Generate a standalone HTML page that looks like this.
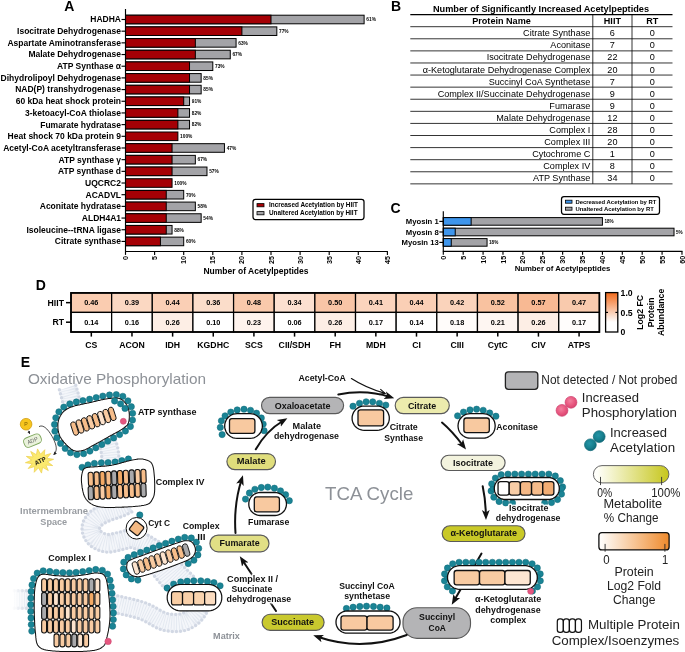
<!DOCTYPE html>
<html><head><meta charset="utf-8"><title>Figure</title><style>
html,body{margin:0;padding:0;background:#fff;}
svg{display:block;font-family:"Liberation Sans", Arial, sans-serif;}
.lab{font-size:8.5px;font-weight:bold;fill:#000;}
.pct{font-size:4.8px;font-weight:bold;fill:#000;}
.tick{font-size:7.2px;font-weight:bold;fill:#000;}
.axl{font-size:8.5px;font-weight:bold;fill:#000;}
.leg{font-size:6.4px;font-weight:bold;fill:#000;}
.pl{font-size:14px;font-weight:bold;fill:#000;}
.ax{stroke:#000;stroke-width:1.15;fill:none;}
.btitle{font-size:9.2px;font-weight:bold;fill:#000;}
.bhead{font-size:9.1px;font-weight:bold;fill:#000;}
.bcell{font-size:9.1px;fill:#000;}
.dval{font-size:7.3px;font-weight:bold;fill:#000;}
.el{font-size:7.4px;font-weight:bold;fill:#111;}
.met{font-size:8px;font-weight:bold;fill:#111;}
.big{fill:#8d9197;}
.lg{font-size:11px;fill:#222;}
</style></head>
<body><svg width="685" height="652" viewBox="0 0 685 652">
<rect width="685" height="652" fill="#fff"/>
<g id="panelA">
<rect x="125.50" y="15.20" width="238.62" height="8.6" fill="#a3a3a7" stroke="#000" stroke-width="1"/>
<rect x="125.50" y="15.20" width="145.50" height="8.6" fill="#a50005" stroke="#000" stroke-width="1"/>
<text x="121.00" y="22.40" text-anchor="end" class="lab">HADHA</text>
<line x1="121.5" y1="19.50" x2="125.5" y2="19.50" class="ax"/>
<text x="366.32" y="21.30" class="pct">61%</text>
<rect x="125.50" y="26.88" width="151.32" height="8.6" fill="#a3a3a7" stroke="#000" stroke-width="1"/>
<rect x="125.50" y="26.88" width="116.40" height="8.6" fill="#a50005" stroke="#000" stroke-width="1"/>
<text x="121.00" y="34.08" text-anchor="end" class="lab">Isocitrate Dehydrogenase</text>
<line x1="121.5" y1="31.18" x2="125.5" y2="31.18" class="ax"/>
<text x="279.02" y="32.98" class="pct">77%</text>
<rect x="125.50" y="38.56" width="110.58" height="8.6" fill="#a3a3a7" stroke="#000" stroke-width="1"/>
<rect x="125.50" y="38.56" width="69.84" height="8.6" fill="#a50005" stroke="#000" stroke-width="1"/>
<text x="121.00" y="45.76" text-anchor="end" class="lab">Aspartate Aminotransferase</text>
<line x1="121.5" y1="42.86" x2="125.5" y2="42.86" class="ax"/>
<text x="238.28" y="44.66" class="pct">63%</text>
<rect x="125.50" y="50.24" width="104.76" height="8.6" fill="#a3a3a7" stroke="#000" stroke-width="1"/>
<rect x="125.50" y="50.24" width="69.84" height="8.6" fill="#a50005" stroke="#000" stroke-width="1"/>
<text x="121.00" y="57.44" text-anchor="end" class="lab">Malate Dehydrogenase</text>
<line x1="121.5" y1="54.54" x2="125.5" y2="54.54" class="ax"/>
<text x="232.46" y="56.34" class="pct">67%</text>
<rect x="125.50" y="61.92" width="87.30" height="8.6" fill="#a3a3a7" stroke="#000" stroke-width="1"/>
<rect x="125.50" y="61.92" width="64.02" height="8.6" fill="#a50005" stroke="#000" stroke-width="1"/>
<text x="121.00" y="69.12" text-anchor="end" class="lab">ATP Synthase α</text>
<line x1="121.5" y1="66.22" x2="125.5" y2="66.22" class="ax"/>
<text x="215.00" y="68.02" class="pct">73%</text>
<rect x="125.50" y="73.60" width="75.66" height="8.6" fill="#a3a3a7" stroke="#000" stroke-width="1"/>
<rect x="125.50" y="73.60" width="64.02" height="8.6" fill="#a50005" stroke="#000" stroke-width="1"/>
<text x="121.00" y="80.80" text-anchor="end" class="lab">Dihydrolipoyl Dehydrogenase</text>
<line x1="121.5" y1="77.90" x2="125.5" y2="77.90" class="ax"/>
<text x="203.36" y="79.70" class="pct">85%</text>
<rect x="125.50" y="85.28" width="75.66" height="8.6" fill="#a3a3a7" stroke="#000" stroke-width="1"/>
<rect x="125.50" y="85.28" width="64.02" height="8.6" fill="#a50005" stroke="#000" stroke-width="1"/>
<text x="121.00" y="92.48" text-anchor="end" class="lab">NAD(P) transhydrogenase</text>
<line x1="121.5" y1="89.58" x2="125.5" y2="89.58" class="ax"/>
<text x="203.36" y="91.38" class="pct">85%</text>
<rect x="125.50" y="96.96" width="64.02" height="8.6" fill="#a3a3a7" stroke="#000" stroke-width="1"/>
<rect x="125.50" y="96.96" width="58.20" height="8.6" fill="#a50005" stroke="#000" stroke-width="1"/>
<text x="121.00" y="104.16" text-anchor="end" class="lab">60 kDa heat shock protein</text>
<line x1="121.5" y1="101.26" x2="125.5" y2="101.26" class="ax"/>
<text x="191.72" y="103.06" class="pct">91%</text>
<rect x="125.50" y="108.64" width="64.02" height="8.6" fill="#a3a3a7" stroke="#000" stroke-width="1"/>
<rect x="125.50" y="108.64" width="52.38" height="8.6" fill="#a50005" stroke="#000" stroke-width="1"/>
<text x="121.00" y="115.84" text-anchor="end" class="lab">3-ketoacyl-CoA thiolase</text>
<line x1="121.5" y1="112.94" x2="125.5" y2="112.94" class="ax"/>
<text x="191.72" y="114.74" class="pct">82%</text>
<rect x="125.50" y="120.32" width="64.02" height="8.6" fill="#a3a3a7" stroke="#000" stroke-width="1"/>
<rect x="125.50" y="120.32" width="52.38" height="8.6" fill="#a50005" stroke="#000" stroke-width="1"/>
<text x="121.00" y="127.52" text-anchor="end" class="lab">Fumarate hydratase</text>
<line x1="121.5" y1="124.62" x2="125.5" y2="124.62" class="ax"/>
<text x="191.72" y="126.42" class="pct">82%</text>
<rect x="125.50" y="132.00" width="52.38" height="8.6" fill="#a50005" stroke="#000" stroke-width="1"/>
<text x="121.00" y="139.20" text-anchor="end" class="lab">Heat shock 70 kDa protein 9</text>
<line x1="121.5" y1="136.30" x2="125.5" y2="136.30" class="ax"/>
<text x="180.08" y="138.10" class="pct">100%</text>
<rect x="125.50" y="143.68" width="98.94" height="8.6" fill="#a3a3a7" stroke="#000" stroke-width="1"/>
<rect x="125.50" y="143.68" width="46.56" height="8.6" fill="#a50005" stroke="#000" stroke-width="1"/>
<text x="121.00" y="150.88" text-anchor="end" class="lab">Acetyl-CoA acetyltransferase</text>
<line x1="121.5" y1="147.98" x2="125.5" y2="147.98" class="ax"/>
<text x="226.64" y="149.78" class="pct">47%</text>
<rect x="125.50" y="155.36" width="69.84" height="8.6" fill="#a3a3a7" stroke="#000" stroke-width="1"/>
<rect x="125.50" y="155.36" width="46.56" height="8.6" fill="#a50005" stroke="#000" stroke-width="1"/>
<text x="121.00" y="162.56" text-anchor="end" class="lab">ATP synthase γ</text>
<line x1="121.5" y1="159.66" x2="125.5" y2="159.66" class="ax"/>
<text x="197.54" y="161.46" class="pct">67%</text>
<rect x="125.50" y="167.04" width="81.48" height="8.6" fill="#a3a3a7" stroke="#000" stroke-width="1"/>
<rect x="125.50" y="167.04" width="46.56" height="8.6" fill="#a50005" stroke="#000" stroke-width="1"/>
<text x="121.00" y="174.24" text-anchor="end" class="lab">ATP synthase d</text>
<line x1="121.5" y1="171.34" x2="125.5" y2="171.34" class="ax"/>
<text x="209.18" y="173.14" class="pct">57%</text>
<rect x="125.50" y="178.72" width="46.56" height="8.6" fill="#a50005" stroke="#000" stroke-width="1"/>
<text x="121.00" y="185.92" text-anchor="end" class="lab">UQCRC2</text>
<line x1="121.5" y1="183.02" x2="125.5" y2="183.02" class="ax"/>
<text x="174.26" y="184.82" class="pct">100%</text>
<rect x="125.50" y="190.40" width="58.20" height="8.6" fill="#a3a3a7" stroke="#000" stroke-width="1"/>
<rect x="125.50" y="190.40" width="40.74" height="8.6" fill="#a50005" stroke="#000" stroke-width="1"/>
<text x="121.00" y="197.60" text-anchor="end" class="lab">ACADVL</text>
<line x1="121.5" y1="194.70" x2="125.5" y2="194.70" class="ax"/>
<text x="185.90" y="196.50" class="pct">70%</text>
<rect x="125.50" y="202.08" width="69.84" height="8.6" fill="#a3a3a7" stroke="#000" stroke-width="1"/>
<rect x="125.50" y="202.08" width="40.74" height="8.6" fill="#a50005" stroke="#000" stroke-width="1"/>
<text x="121.00" y="209.28" text-anchor="end" class="lab">Aconitate hydratase</text>
<line x1="121.5" y1="206.38" x2="125.5" y2="206.38" class="ax"/>
<text x="197.54" y="208.18" class="pct">58%</text>
<rect x="125.50" y="213.76" width="75.66" height="8.6" fill="#a3a3a7" stroke="#000" stroke-width="1"/>
<rect x="125.50" y="213.76" width="40.74" height="8.6" fill="#a50005" stroke="#000" stroke-width="1"/>
<text x="121.00" y="220.96" text-anchor="end" class="lab">ALDH4A1</text>
<line x1="121.5" y1="218.06" x2="125.5" y2="218.06" class="ax"/>
<text x="203.36" y="219.86" class="pct">54%</text>
<rect x="125.50" y="225.44" width="46.56" height="8.6" fill="#a3a3a7" stroke="#000" stroke-width="1"/>
<rect x="125.50" y="225.44" width="40.74" height="8.6" fill="#a50005" stroke="#000" stroke-width="1"/>
<text x="121.00" y="232.64" text-anchor="end" class="lab">Isoleucine--tRNA ligase</text>
<line x1="121.5" y1="229.74" x2="125.5" y2="229.74" class="ax"/>
<text x="174.26" y="231.54" class="pct">88%</text>
<rect x="125.50" y="237.12" width="58.20" height="8.6" fill="#a3a3a7" stroke="#000" stroke-width="1"/>
<rect x="125.50" y="237.12" width="34.92" height="8.6" fill="#a50005" stroke="#000" stroke-width="1"/>
<text x="121.00" y="244.32" text-anchor="end" class="lab">Citrate synthase</text>
<line x1="121.5" y1="241.42" x2="125.5" y2="241.42" class="ax"/>
<text x="185.90" y="243.22" class="pct">60%</text>
<line x1="125.5" y1="9" x2="125.5" y2="251.5" class="ax"/>
<line x1="125.0" y1="251.5" x2="387.90" y2="251.5" class="ax"/>
<line x1="125.50" y1="251.5" x2="125.50" y2="254.9" class="ax"/>
<text transform="translate(128.05,256.1) rotate(-90)" text-anchor="end" class="tick">0</text>
<line x1="154.60" y1="251.5" x2="154.60" y2="254.9" class="ax"/>
<text transform="translate(157.15,256.1) rotate(-90)" text-anchor="end" class="tick">5</text>
<line x1="183.70" y1="251.5" x2="183.70" y2="254.9" class="ax"/>
<text transform="translate(186.25,256.1) rotate(-90)" text-anchor="end" class="tick">10</text>
<line x1="212.80" y1="251.5" x2="212.80" y2="254.9" class="ax"/>
<text transform="translate(215.35,256.1) rotate(-90)" text-anchor="end" class="tick">15</text>
<line x1="241.90" y1="251.5" x2="241.90" y2="254.9" class="ax"/>
<text transform="translate(244.45,256.1) rotate(-90)" text-anchor="end" class="tick">20</text>
<line x1="271.00" y1="251.5" x2="271.00" y2="254.9" class="ax"/>
<text transform="translate(273.55,256.1) rotate(-90)" text-anchor="end" class="tick">25</text>
<line x1="300.10" y1="251.5" x2="300.10" y2="254.9" class="ax"/>
<text transform="translate(302.65,256.1) rotate(-90)" text-anchor="end" class="tick">30</text>
<line x1="329.20" y1="251.5" x2="329.20" y2="254.9" class="ax"/>
<text transform="translate(331.75,256.1) rotate(-90)" text-anchor="end" class="tick">35</text>
<line x1="358.30" y1="251.5" x2="358.30" y2="254.9" class="ax"/>
<text transform="translate(360.85,256.1) rotate(-90)" text-anchor="end" class="tick">40</text>
<line x1="387.40" y1="251.5" x2="387.40" y2="254.9" class="ax"/>
<text transform="translate(389.95,256.1) rotate(-90)" text-anchor="end" class="tick">45</text>
<text x="256" y="273.5" text-anchor="middle" class="axl">Number of Acetylpeptides</text>
<rect x="253" y="199.3" width="111" height="20.3" rx="2.5" fill="#fff" stroke="#000" stroke-width="1.25"/>
<rect x="257" y="203.6" width="7" height="3.2" fill="#a50005" stroke="#000" stroke-width="0.8"/>
<rect x="257" y="211.6" width="7" height="3.2" fill="#a3a3a7" stroke="#000" stroke-width="0.8"/>
<text x="269" y="207.3" class="leg">Increased Acetylation by HIIT</text>
<text x="269" y="215.3" class="leg">Unaltered Acetylation by HIIT</text>
</g>
<text x="64.3" y="10.8" class="pl">A</text>
<text x="391" y="10.8" class="pl">B</text>
<text x="390.6" y="213.3" class="pl">C</text>
<text x="35.8" y="289.6" class="pl">D</text>
<text x="20.8" y="367" class="pl">E</text>
<g id="panelB">
<text x="541" y="12" text-anchor="middle" class="btitle">Number of Significantly Increased Acetylpeptides</text>
<line x1="410.3" y1="14.7" x2="672.5" y2="14.7" stroke="#000" stroke-width="1.3"/>
<line x1="410.3" y1="26.7" x2="672.5" y2="26.7" stroke="#000" stroke-width="0.8"/>
<text x="501.5" y="24.0" text-anchor="middle" class="bhead">Protein Name</text>
<text x="612.4" y="24.0" text-anchor="middle" class="bhead">HIIT</text>
<text x="652.2" y="24.0" text-anchor="middle" class="bhead">RT</text>
<line x1="410.3" y1="38.79" x2="672.5" y2="38.79" stroke="#000" stroke-width="0.8"/>
<text x="590.3" y="36.30" text-anchor="end" class="bcell">Citrate Synthase</text>
<text x="612.4" y="36.30" text-anchor="middle" class="bcell">6</text>
<text x="652.2" y="36.30" text-anchor="middle" class="bcell">0</text>
<line x1="410.3" y1="50.88" x2="672.5" y2="50.88" stroke="#000" stroke-width="0.8"/>
<text x="590.3" y="48.39" text-anchor="end" class="bcell">Aconitase</text>
<text x="612.4" y="48.39" text-anchor="middle" class="bcell">7</text>
<text x="652.2" y="48.39" text-anchor="middle" class="bcell">0</text>
<line x1="410.3" y1="62.97" x2="672.5" y2="62.97" stroke="#000" stroke-width="0.8"/>
<text x="590.3" y="60.48" text-anchor="end" class="bcell">Isocitrate Dehydrogenase</text>
<text x="612.4" y="60.48" text-anchor="middle" class="bcell">22</text>
<text x="652.2" y="60.48" text-anchor="middle" class="bcell">0</text>
<line x1="410.3" y1="75.06" x2="672.5" y2="75.06" stroke="#000" stroke-width="0.8"/>
<text x="590.3" y="72.57" text-anchor="end" class="bcell">α-Ketoglutarate Dehydrogenase Complex</text>
<text x="612.4" y="72.57" text-anchor="middle" class="bcell">20</text>
<text x="652.2" y="72.57" text-anchor="middle" class="bcell">0</text>
<line x1="410.3" y1="87.15" x2="672.5" y2="87.15" stroke="#000" stroke-width="0.8"/>
<text x="590.3" y="84.66" text-anchor="end" class="bcell">Succinyl CoA Synthetase</text>
<text x="612.4" y="84.66" text-anchor="middle" class="bcell">7</text>
<text x="652.2" y="84.66" text-anchor="middle" class="bcell">0</text>
<line x1="410.3" y1="99.24" x2="672.5" y2="99.24" stroke="#000" stroke-width="0.8"/>
<text x="590.3" y="96.75" text-anchor="end" class="bcell">Complex II/Succinate Dehydrogenase</text>
<text x="612.4" y="96.75" text-anchor="middle" class="bcell">9</text>
<text x="652.2" y="96.75" text-anchor="middle" class="bcell">0</text>
<line x1="410.3" y1="111.33" x2="672.5" y2="111.33" stroke="#000" stroke-width="0.8"/>
<text x="590.3" y="108.84" text-anchor="end" class="bcell">Fumarase</text>
<text x="612.4" y="108.84" text-anchor="middle" class="bcell">9</text>
<text x="652.2" y="108.84" text-anchor="middle" class="bcell">0</text>
<line x1="410.3" y1="123.42" x2="672.5" y2="123.42" stroke="#000" stroke-width="0.8"/>
<text x="590.3" y="120.93" text-anchor="end" class="bcell">Malate Dehydrogenase</text>
<text x="612.4" y="120.93" text-anchor="middle" class="bcell">12</text>
<text x="652.2" y="120.93" text-anchor="middle" class="bcell">0</text>
<line x1="410.3" y1="135.51" x2="672.5" y2="135.51" stroke="#000" stroke-width="0.8"/>
<text x="590.3" y="133.02" text-anchor="end" class="bcell">Complex I</text>
<text x="612.4" y="133.02" text-anchor="middle" class="bcell">28</text>
<text x="652.2" y="133.02" text-anchor="middle" class="bcell">0</text>
<line x1="410.3" y1="147.60" x2="672.5" y2="147.60" stroke="#000" stroke-width="0.8"/>
<text x="590.3" y="145.11" text-anchor="end" class="bcell">Complex III</text>
<text x="612.4" y="145.11" text-anchor="middle" class="bcell">20</text>
<text x="652.2" y="145.11" text-anchor="middle" class="bcell">0</text>
<line x1="410.3" y1="159.69" x2="672.5" y2="159.69" stroke="#000" stroke-width="0.8"/>
<text x="590.3" y="157.20" text-anchor="end" class="bcell">Cytochrome C</text>
<text x="612.4" y="157.20" text-anchor="middle" class="bcell">1</text>
<text x="652.2" y="157.20" text-anchor="middle" class="bcell">0</text>
<line x1="410.3" y1="171.78" x2="672.5" y2="171.78" stroke="#000" stroke-width="0.8"/>
<text x="590.3" y="169.29" text-anchor="end" class="bcell">Complex IV</text>
<text x="612.4" y="169.29" text-anchor="middle" class="bcell">8</text>
<text x="652.2" y="169.29" text-anchor="middle" class="bcell">0</text>
<line x1="410.3" y1="183.87" x2="672.5" y2="183.87" stroke="#000" stroke-width="0.8"/>
<text x="590.3" y="181.38" text-anchor="end" class="bcell">ATP Synthase</text>
<text x="612.4" y="181.38" text-anchor="middle" class="bcell">34</text>
<text x="652.2" y="181.38" text-anchor="middle" class="bcell">0</text>
<line x1="592.8" y1="14.7" x2="592.8" y2="183.87" stroke="#000" stroke-width="0.8"/>
<line x1="632.0" y1="14.7" x2="632.0" y2="183.87" stroke="#000" stroke-width="0.8"/>
</g>
<g id="panelC">
<rect x="443.3" y="217.60" width="159.12" height="7.6" fill="#a3a3a7" stroke="#000" stroke-width="1"/>
<rect x="443.3" y="217.60" width="27.85" height="7.6" fill="#3e95ec" stroke="#000" stroke-width="1"/>
<text x="438.7" y="224.20" text-anchor="end" class="lab" style="font-size:7.7px">Myosin 1</text>
<line x1="439.3" y1="221.4" x2="443.3" y2="221.4" class="ax"/>
<text x="604.42" y="223.00" class="pct" style="font-size:4.6px">18%</text>
<rect x="443.3" y="228.20" width="230.72" height="7.6" fill="#a3a3a7" stroke="#000" stroke-width="1"/>
<rect x="443.3" y="228.20" width="11.93" height="7.6" fill="#3e95ec" stroke="#000" stroke-width="1"/>
<text x="438.7" y="234.80" text-anchor="end" class="lab" style="font-size:7.7px">Myosin 8</text>
<line x1="439.3" y1="232.0" x2="443.3" y2="232.0" class="ax"/>
<text x="676.02" y="233.60" class="pct" style="font-size:4.6px">5%</text>
<rect x="443.3" y="238.60" width="43.76" height="7.6" fill="#a3a3a7" stroke="#000" stroke-width="1"/>
<rect x="443.3" y="238.60" width="7.96" height="7.6" fill="#3e95ec" stroke="#000" stroke-width="1"/>
<text x="438.7" y="245.20" text-anchor="end" class="lab" style="font-size:7.7px">Myosin 13</text>
<line x1="439.3" y1="242.4" x2="443.3" y2="242.4" class="ax"/>
<text x="489.06" y="244.00" class="pct" style="font-size:4.6px">18%</text>
<line x1="443.3" y1="211.3" x2="443.3" y2="251.3" class="ax"/>
<line x1="442.8" y1="251.3" x2="682.48" y2="251.3" class="ax"/>
<line x1="443.30" y1="251.3" x2="443.30" y2="254.8" class="ax"/>
<text transform="translate(445.90,255.70000000000002) rotate(-90)" text-anchor="end" class="tick" style="font-size:7.3px">0</text>
<line x1="463.19" y1="251.3" x2="463.19" y2="254.8" class="ax"/>
<text transform="translate(465.79,255.70000000000002) rotate(-90)" text-anchor="end" class="tick" style="font-size:7.3px">5</text>
<line x1="483.08" y1="251.3" x2="483.08" y2="254.8" class="ax"/>
<text transform="translate(485.68,255.70000000000002) rotate(-90)" text-anchor="end" class="tick" style="font-size:7.3px">10</text>
<line x1="502.97" y1="251.3" x2="502.97" y2="254.8" class="ax"/>
<text transform="translate(505.57,255.70000000000002) rotate(-90)" text-anchor="end" class="tick" style="font-size:7.3px">15</text>
<line x1="522.86" y1="251.3" x2="522.86" y2="254.8" class="ax"/>
<text transform="translate(525.46,255.70000000000002) rotate(-90)" text-anchor="end" class="tick" style="font-size:7.3px">20</text>
<line x1="542.75" y1="251.3" x2="542.75" y2="254.8" class="ax"/>
<text transform="translate(545.35,255.70000000000002) rotate(-90)" text-anchor="end" class="tick" style="font-size:7.3px">25</text>
<line x1="562.64" y1="251.3" x2="562.64" y2="254.8" class="ax"/>
<text transform="translate(565.24,255.70000000000002) rotate(-90)" text-anchor="end" class="tick" style="font-size:7.3px">30</text>
<line x1="582.53" y1="251.3" x2="582.53" y2="254.8" class="ax"/>
<text transform="translate(585.13,255.70000000000002) rotate(-90)" text-anchor="end" class="tick" style="font-size:7.3px">35</text>
<line x1="602.42" y1="251.3" x2="602.42" y2="254.8" class="ax"/>
<text transform="translate(605.02,255.70000000000002) rotate(-90)" text-anchor="end" class="tick" style="font-size:7.3px">40</text>
<line x1="622.31" y1="251.3" x2="622.31" y2="254.8" class="ax"/>
<text transform="translate(624.91,255.70000000000002) rotate(-90)" text-anchor="end" class="tick" style="font-size:7.3px">45</text>
<line x1="642.20" y1="251.3" x2="642.20" y2="254.8" class="ax"/>
<text transform="translate(644.80,255.70000000000002) rotate(-90)" text-anchor="end" class="tick" style="font-size:7.3px">50</text>
<line x1="662.09" y1="251.3" x2="662.09" y2="254.8" class="ax"/>
<text transform="translate(664.69,255.70000000000002) rotate(-90)" text-anchor="end" class="tick" style="font-size:7.3px">55</text>
<line x1="681.98" y1="251.3" x2="681.98" y2="254.8" class="ax"/>
<text transform="translate(684.58,255.70000000000002) rotate(-90)" text-anchor="end" class="tick" style="font-size:7.3px">60</text>
<text x="562.5" y="271" text-anchor="middle" class="axl" style="font-size:7.75px">Number of Acetylpeptides</text>
<rect x="561.5" y="196.5" width="98" height="17.8" rx="2.5" fill="#fff" stroke="#000" stroke-width="1.25"/>
<rect x="565.5" y="200.2" width="6.5" height="3" fill="#3e95ec" stroke="#000" stroke-width="0.8"/>
<rect x="565.5" y="207.2" width="6.5" height="3" fill="#a3a3a7" stroke="#000" stroke-width="0.8"/>
<text x="575.4" y="204" class="leg" style="font-size:5.9px">Decreased Acetylation by RT</text>
<text x="575.4" y="211.3" class="leg" style="font-size:5.9px">Unaltered Acetylation by RT</text>
</g>
<g id="panelD">
<rect x="71.00" y="292.9" width="40.65" height="19.50" fill="#faccb0" stroke="#000" stroke-width="1.25"/>
<rect x="71.00" y="312.4" width="40.65" height="19.60" fill="#ffffff" stroke="#000" stroke-width="1.25"/>
<text x="91.32" y="305.25" text-anchor="middle" class="dval">0.46</text>
<text x="91.32" y="324.80" text-anchor="middle" class="dval">0.14</text>
<line x1="91.32" y1="332.0" x2="91.32" y2="336.6" class="ax" style="stroke-width:1.5"/>
<text x="91.32" y="347.5" text-anchor="middle" class="lab" style="font-size:8.7px">CS</text>
<rect x="111.65" y="292.9" width="40.65" height="19.50" fill="#fbd8c2" stroke="#000" stroke-width="1.25"/>
<rect x="111.65" y="312.4" width="40.65" height="19.60" fill="#ffffff" stroke="#000" stroke-width="1.25"/>
<text x="131.97" y="305.25" text-anchor="middle" class="dval">0.39</text>
<text x="131.97" y="324.80" text-anchor="middle" class="dval">0.16</text>
<line x1="131.97" y1="332.0" x2="131.97" y2="336.6" class="ax" style="stroke-width:1.5"/>
<text x="131.97" y="347.5" text-anchor="middle" class="lab" style="font-size:8.7px">ACON</text>
<rect x="152.29" y="292.9" width="40.65" height="19.50" fill="#facfb5" stroke="#000" stroke-width="1.25"/>
<rect x="152.29" y="312.4" width="40.65" height="19.60" fill="#fdeee5" stroke="#000" stroke-width="1.25"/>
<text x="172.62" y="305.25" text-anchor="middle" class="dval">0.44</text>
<text x="172.62" y="324.80" text-anchor="middle" class="dval">0.26</text>
<line x1="172.62" y1="332.0" x2="172.62" y2="336.6" class="ax" style="stroke-width:1.5"/>
<text x="172.62" y="347.5" text-anchor="middle" class="lab" style="font-size:8.7px">IDH</text>
<rect x="192.94" y="292.9" width="40.65" height="19.50" fill="#fbddca" stroke="#000" stroke-width="1.25"/>
<rect x="192.94" y="312.4" width="40.65" height="19.60" fill="#ffffff" stroke="#000" stroke-width="1.25"/>
<text x="213.26" y="305.25" text-anchor="middle" class="dval">0.36</text>
<text x="213.26" y="324.80" text-anchor="middle" class="dval">0.10</text>
<line x1="213.26" y1="332.0" x2="213.26" y2="336.6" class="ax" style="stroke-width:1.5"/>
<text x="213.26" y="347.5" text-anchor="middle" class="lab" style="font-size:8.7px">KGDHC</text>
<rect x="233.58" y="292.9" width="40.65" height="19.50" fill="#f9c9ab" stroke="#000" stroke-width="1.25"/>
<rect x="233.58" y="312.4" width="40.65" height="19.60" fill="#fef3ed" stroke="#000" stroke-width="1.25"/>
<text x="253.91" y="305.25" text-anchor="middle" class="dval">0.48</text>
<text x="253.91" y="324.80" text-anchor="middle" class="dval">0.23</text>
<line x1="253.91" y1="332.0" x2="253.91" y2="336.6" class="ax" style="stroke-width:1.5"/>
<text x="253.91" y="347.5" text-anchor="middle" class="lab" style="font-size:8.7px">SCS</text>
<rect x="274.23" y="292.9" width="40.65" height="19.50" fill="#fce0d0" stroke="#000" stroke-width="1.25"/>
<rect x="274.23" y="312.4" width="40.65" height="19.60" fill="#ffffff" stroke="#000" stroke-width="1.25"/>
<text x="294.55" y="305.25" text-anchor="middle" class="dval">0.34</text>
<text x="294.55" y="324.80" text-anchor="middle" class="dval">0.06</text>
<line x1="294.55" y1="332.0" x2="294.55" y2="336.6" class="ax" style="stroke-width:1.5"/>
<text x="294.55" y="347.5" text-anchor="middle" class="lab" style="font-size:8.7px">CII/SDH</text>
<rect x="314.88" y="292.9" width="40.65" height="19.50" fill="#f9c5a6" stroke="#000" stroke-width="1.25"/>
<rect x="314.88" y="312.4" width="40.65" height="19.60" fill="#fdeee5" stroke="#000" stroke-width="1.25"/>
<text x="335.20" y="305.25" text-anchor="middle" class="dval">0.50</text>
<text x="335.20" y="324.80" text-anchor="middle" class="dval">0.26</text>
<line x1="335.20" y1="332.0" x2="335.20" y2="336.6" class="ax" style="stroke-width:1.5"/>
<text x="335.20" y="347.5" text-anchor="middle" class="lab" style="font-size:8.7px">FH</text>
<rect x="355.52" y="292.9" width="40.65" height="19.50" fill="#fbd4bd" stroke="#000" stroke-width="1.25"/>
<rect x="355.52" y="312.4" width="40.65" height="19.60" fill="#fffdfc" stroke="#000" stroke-width="1.25"/>
<text x="375.85" y="305.25" text-anchor="middle" class="dval">0.41</text>
<text x="375.85" y="324.80" text-anchor="middle" class="dval">0.17</text>
<line x1="375.85" y1="332.0" x2="375.85" y2="336.6" class="ax" style="stroke-width:1.5"/>
<text x="375.85" y="347.5" text-anchor="middle" class="lab" style="font-size:8.7px">MDH</text>
<rect x="396.17" y="292.9" width="40.65" height="19.50" fill="#facfb5" stroke="#000" stroke-width="1.25"/>
<rect x="396.17" y="312.4" width="40.65" height="19.60" fill="#ffffff" stroke="#000" stroke-width="1.25"/>
<text x="416.49" y="305.25" text-anchor="middle" class="dval">0.44</text>
<text x="416.49" y="324.80" text-anchor="middle" class="dval">0.14</text>
<line x1="416.49" y1="332.0" x2="416.49" y2="336.6" class="ax" style="stroke-width:1.5"/>
<text x="416.49" y="347.5" text-anchor="middle" class="lab" style="font-size:8.7px">CI</text>
<rect x="436.82" y="292.9" width="40.65" height="19.50" fill="#fad3bb" stroke="#000" stroke-width="1.25"/>
<rect x="436.82" y="312.4" width="40.65" height="19.60" fill="#fffcfa" stroke="#000" stroke-width="1.25"/>
<text x="457.14" y="305.25" text-anchor="middle" class="dval">0.42</text>
<text x="457.14" y="324.80" text-anchor="middle" class="dval">0.18</text>
<line x1="457.14" y1="332.0" x2="457.14" y2="336.6" class="ax" style="stroke-width:1.5"/>
<text x="457.14" y="347.5" text-anchor="middle" class="lab" style="font-size:8.7px">CIII</text>
<rect x="477.46" y="292.9" width="40.65" height="19.50" fill="#f9c2a0" stroke="#000" stroke-width="1.25"/>
<rect x="477.46" y="312.4" width="40.65" height="19.60" fill="#fef6f2" stroke="#000" stroke-width="1.25"/>
<text x="497.78" y="305.25" text-anchor="middle" class="dval">0.52</text>
<text x="497.78" y="324.80" text-anchor="middle" class="dval">0.21</text>
<line x1="497.78" y1="332.0" x2="497.78" y2="336.6" class="ax" style="stroke-width:1.5"/>
<text x="497.78" y="347.5" text-anchor="middle" class="lab" style="font-size:8.7px">CytC</text>
<rect x="518.11" y="292.9" width="40.65" height="19.50" fill="#f8b993" stroke="#000" stroke-width="1.25"/>
<rect x="518.11" y="312.4" width="40.65" height="19.60" fill="#fdeee5" stroke="#000" stroke-width="1.25"/>
<text x="538.43" y="305.25" text-anchor="middle" class="dval">0.57</text>
<text x="538.43" y="324.80" text-anchor="middle" class="dval">0.26</text>
<line x1="538.43" y1="332.0" x2="538.43" y2="336.6" class="ax" style="stroke-width:1.5"/>
<text x="538.43" y="347.5" text-anchor="middle" class="lab" style="font-size:8.7px">CIV</text>
<rect x="558.75" y="292.9" width="40.65" height="19.50" fill="#f9caad" stroke="#000" stroke-width="1.25"/>
<rect x="558.75" y="312.4" width="40.65" height="19.60" fill="#fffdfc" stroke="#000" stroke-width="1.25"/>
<text x="579.08" y="305.25" text-anchor="middle" class="dval">0.47</text>
<text x="579.08" y="324.80" text-anchor="middle" class="dval">0.17</text>
<line x1="579.08" y1="332.0" x2="579.08" y2="336.6" class="ax" style="stroke-width:1.5"/>
<text x="579.08" y="347.5" text-anchor="middle" class="lab" style="font-size:8.7px">ATPS</text>
<rect x="71.0" y="292.9" width="528.40" height="39.10" fill="none" stroke="#000" stroke-width="1.7"/>
<text x="64" y="305.75" text-anchor="end" class="lab" style="font-size:8.7px">HIIT</text>
<text x="64" y="325.30" text-anchor="end" class="lab" style="font-size:8.7px">RT</text>
<line x1="66" y1="302.65" x2="71.0" y2="302.65" class="ax" style="stroke-width:1.5"/>
<line x1="66" y1="322.20" x2="71.0" y2="322.20" class="ax" style="stroke-width:1.5"/>
<defs><linearGradient id="cb" x1="0" y1="1" x2="0" y2="0"><stop offset="0" stop-color="#fff"/><stop offset="0.25" stop-color="#fff"/><stop offset="1" stop-color="#f26a1b"/></linearGradient></defs>
<rect x="605.6" y="292.59999999999997" width="12.2" height="39.40" fill="url(#cb)" stroke="#000" stroke-width="1.3"/>
<line x1="605.6" y1="312.4" x2="608" y2="312.4" class="ax"/><line x1="615.4" y1="312.4" x2="617.8" y2="312.4" class="ax"/>
<text x="620.6" y="296.00" class="lab" style="font-size:8.7px">1.0</text>
<text x="620.6" y="315.50" class="lab" style="font-size:8.7px">0.5</text>
<text x="620.6" y="335.10" class="lab" style="font-size:8.7px">0</text>
<text transform="translate(643.4,312.4) rotate(-90)" text-anchor="middle" class="lab" style="font-size:8.7px">Log2 FC</text>
<text transform="translate(653.9,312.4) rotate(-90)" text-anchor="middle" class="lab" style="font-size:8.7px">Protein</text>
<text transform="translate(664.4,312.4) rotate(-90)" text-anchor="middle" class="lab" style="font-size:8.7px">Abundance</text>
</g>
<g id="panelE">
<path d="M67.6 387.5 L67.7 387.8 L67.8 388.1 L67.9 388.5 L68.0 388.9 L68.1 389.4 L68.3 389.9 L68.4 390.4 L68.5 391.0 L68.7 391.6 L68.9 392.2 L69.1 392.8 L69.2 393.4 L69.4 394.1 L69.6 394.7 L69.8 395.4 L70.0 396.0 L70.2 396.6 L70.4 397.3 L70.5 398.0 L70.7 398.6 L70.8 399.3 L70.9 400.0 L71.1 400.7 L71.3 401.5 L71.5 402.2 L71.7 403.0 L72.0 403.8 L72.3 404.6 L72.6 405.4 L73.0 406.2 L73.5 407.1 L74.0 408.0 L74.6 408.9 L75.3 409.9 L76.0 410.9 L76.8 412.0 L77.6 413.1 L78.4 414.2 L79.3 415.3 L80.2 416.4 L81.2 417.6 L82.2 418.7 L83.1 419.8 L84.1 420.9 L85.1 422.0 L86.1 423.0 L87.1 424.0 L88.0 425.0 L89.0 425.9 L90.0 426.8 L91.0 427.7 L92.1 428.6 L93.2 429.5 L94.3 430.3 L95.5 431.1 L96.6 431.9 L97.7 432.7 L98.7 433.5 L99.7 434.3 L100.7 435.1 L101.7 435.8 L102.5 436.5 L103.3 437.3 L104.0 438.0 L104.6 438.7 L105.2 439.4 L105.7 440.0 L106.1 440.6 L106.5 441.1 L106.8 441.7 L107.1 442.3 L107.4 442.8 L107.6 443.4 L107.8 443.9 L108.0 444.5 L108.2 445.1 L108.4 445.8 L108.6 446.5 L108.8 447.2 L109.0 448.0 L109.2 448.9 L109.4 449.8 L109.6 450.9 L109.8 452.0 L109.9 453.1 L110.1 454.3 L110.2 455.4 L110.3 456.6 L110.4 457.8 L110.5 458.9 L110.6 460.0 L110.7 461.0 L110.8 461.9 L110.9 462.7 L110.9 463.4 L111.0 464.0" fill="none" stroke="#f4f6fa" stroke-width="19.5" stroke-linecap="butt"/>
<path d="M67.6 387.5 L67.7 387.8 L67.8 388.1 L67.9 388.5 L68.0 388.9 L68.1 389.4 L68.3 389.9 L68.4 390.4 L68.5 391.0 L68.7 391.6 L68.9 392.2 L69.1 392.8 L69.2 393.4 L69.4 394.1 L69.6 394.7 L69.8 395.4 L70.0 396.0 L70.2 396.6 L70.4 397.3 L70.5 398.0 L70.7 398.6 L70.8 399.3 L70.9 400.0 L71.1 400.7 L71.3 401.5 L71.5 402.2 L71.7 403.0 L72.0 403.8 L72.3 404.6 L72.6 405.4 L73.0 406.2 L73.5 407.1 L74.0 408.0 L74.6 408.9 L75.3 409.9 L76.0 410.9 L76.8 412.0 L77.6 413.1 L78.4 414.2 L79.3 415.3 L80.2 416.4 L81.2 417.6 L82.2 418.7 L83.1 419.8 L84.1 420.9 L85.1 422.0 L86.1 423.0 L87.1 424.0 L88.0 425.0 L89.0 425.9 L90.0 426.8 L91.0 427.7 L92.1 428.6 L93.2 429.5 L94.3 430.3 L95.5 431.1 L96.6 431.9 L97.7 432.7 L98.7 433.5 L99.7 434.3 L100.7 435.1 L101.7 435.8 L102.5 436.5 L103.3 437.3 L104.0 438.0 L104.6 438.7 L105.2 439.4 L105.7 440.0 L106.1 440.6 L106.5 441.1 L106.8 441.7 L107.1 442.3 L107.4 442.8 L107.6 443.4 L107.8 443.9 L108.0 444.5 L108.2 445.1 L108.4 445.8 L108.6 446.5 L108.8 447.2 L109.0 448.0 L109.2 448.9 L109.4 449.8 L109.6 450.9 L109.8 452.0 L109.9 453.1 L110.1 454.3 L110.2 455.4 L110.3 456.6 L110.4 457.8 L110.5 458.9 L110.6 460.0 L110.7 461.0 L110.8 461.9 L110.9 462.7 L110.9 463.4 L111.0 464.0" fill="none" stroke="#e3e8f0" stroke-width="15.5" stroke-dasharray="0.9 1.6"/>
<path d="M75.8 385.2 L75.9 385.5 L76.0 385.9 L76.1 386.3 L76.2 386.7 L76.4 387.2 L76.5 387.7 L76.6 388.2 L76.8 388.7 L77.0 389.3 L77.1 389.9 L77.3 390.5 L77.4 391.1 L77.6 391.7 L77.8 392.3 L78.0 392.9 L78.2 393.5 L78.4 394.4 L78.7 395.3 L78.9 396.1 L79.0 396.9 L79.2 397.6 L79.3 398.2 L79.4 398.8 L79.6 399.4 L79.7 399.9 L79.9 400.4 L80.0 400.9 L80.2 401.4 L80.4 401.9 L80.6 402.4 L80.9 402.9 L81.3 403.5 L81.7 404.2 L82.3 405.1 L82.9 405.9 L83.6 406.9 L84.4 407.9 L85.1 408.9 L86.0 409.9 L86.8 411.0 L87.7 412.0 L88.6 413.1 L89.5 414.1 L90.5 415.2 L91.4 416.2 L92.3 417.1 L93.2 418.1 L94.0 418.9 L94.8 419.7 L95.6 420.4 L96.5 421.1 L97.4 421.9 L98.4 422.7 L99.5 423.4 L100.5 424.2 L101.6 425.0 L102.7 425.8 L103.8 426.7 L104.9 427.5 L106.0 428.4 L107.1 429.2 L108.2 430.2 L109.3 431.2 L110.3 432.2 L111.1 433.1 L111.8 434.0 L112.5 434.8 L113.1 435.7 L113.7 436.6 L114.2 437.5 L114.7 438.4 L115.2 439.3 L115.5 440.2 L115.9 441.1 L116.2 441.9 L116.4 442.7 L116.6 443.5 L116.8 444.2 L117.0 445.0 L117.3 445.9 L117.6 447.0 L117.8 448.2 L118.0 449.5 L118.2 450.7 L118.4 452.0 L118.5 453.3 L118.7 454.5 L118.8 455.8 L118.9 457.0 L119.0 458.1 L119.1 459.2 L119.2 460.2 L119.3 461.1 L119.4 461.9 L119.4 462.5 L119.5 463.0" fill="none" stroke="#d2d8e4" stroke-width="3.4" stroke-linecap="round" stroke-dasharray="0 4.1"/>
<path d="M59.4 389.8 L59.4 390.1 L59.5 390.4 L59.6 390.7 L59.7 391.2 L59.9 391.6 L60.0 392.1 L60.1 392.7 L60.3 393.3 L60.5 393.9 L60.6 394.5 L60.8 395.1 L61.0 395.8 L61.2 396.5 L61.4 397.2 L61.6 397.9 L61.8 398.5 L61.9 398.9 L62.0 399.3 L62.2 399.8 L62.3 400.4 L62.4 401.1 L62.6 401.8 L62.8 402.7 L63.0 403.6 L63.2 404.5 L63.5 405.5 L63.9 406.6 L64.3 407.7 L64.8 408.9 L65.4 410.1 L66.0 411.3 L66.7 412.5 L67.5 413.6 L68.2 414.8 L69.0 415.9 L69.9 417.1 L70.8 418.3 L71.7 419.5 L72.7 420.7 L73.7 421.9 L74.7 423.1 L75.7 424.3 L76.7 425.5 L77.8 426.7 L78.8 427.8 L79.9 428.9 L80.9 430.0 L82.0 431.1 L83.1 432.2 L84.4 433.3 L85.6 434.3 L86.8 435.3 L88.0 436.2 L89.2 437.1 L90.4 438.0 L91.5 438.8 L92.6 439.6 L93.6 440.4 L94.6 441.1 L95.4 441.8 L96.2 442.4 L96.8 442.9 L97.3 443.4 L97.7 443.8 L98.2 444.3 L98.5 444.8 L98.8 445.1 L99.1 445.5 L99.3 445.7 L99.4 445.9 L99.5 446.1 L99.6 446.3 L99.7 446.6 L99.8 446.8 L99.9 447.2 L100.0 447.6 L100.2 448.1 L100.3 448.7 L100.5 449.4 L100.7 450.1 L100.9 450.7 L101.0 451.4 L101.2 452.2 L101.3 453.2 L101.4 454.2 L101.6 455.3 L101.7 456.4 L101.8 457.5 L101.9 458.6 L102.0 459.7 L102.1 460.7 L102.2 461.7 L102.3 462.7 L102.4 463.5 L102.4 464.3 L102.5 465.0" fill="none" stroke="#d2d8e4" stroke-width="3.4" stroke-linecap="round" stroke-dasharray="0 4.1"/>
<defs><linearGradient id="mfade2" x1="0" y1="0" x2="0" y2="1"><stop offset="0" stop-color="#fff" stop-opacity="1"/><stop offset="1" stop-color="#fff" stop-opacity="0"/></linearGradient></defs>
<path d="M128.0 504.0 L127.7 504.2 L127.3 504.3 L126.9 504.5 L126.4 504.8 L125.9 505.0 L125.4 505.3 L124.8 505.6 L124.2 505.9 L123.5 506.2 L122.9 506.5 L122.2 506.8 L121.5 507.1 L120.9 507.4 L120.2 507.7 L119.5 508.0 L118.8 508.3 L118.1 508.6 L117.4 508.8 L116.6 509.1 L115.9 509.3 L115.1 509.6 L114.3 509.8 L113.5 510.0 L112.7 510.3 L111.9 510.5 L111.0 510.8 L110.2 511.1 L109.4 511.3 L108.6 511.6 L107.9 511.9 L107.1 512.2 L106.4 512.5 L105.7 512.8 L105.0 513.1 L104.3 513.5 L103.5 513.8 L102.8 514.1 L102.1 514.5 L101.4 514.8 L100.8 515.2 L100.1 515.5 L99.4 515.9 L98.8 516.3 L98.2 516.7 L97.6 517.1 L97.0 517.6 L96.5 518.0 L96.0 518.5 L95.5 519.0 L95.0 519.5 L94.6 520.0 L94.1 520.6 L93.7 521.1 L93.3 521.7 L92.9 522.3 L92.5 522.9 L92.1 523.5 L91.8 524.1 L91.6 524.7 L91.3 525.3 L91.1 526.0 L91.0 526.6 L90.9 527.2 L90.8 527.8 L90.8 528.4 L90.8 529.1 L90.9 529.7 L91.0 530.4 L91.2 531.1 L91.4 531.8 L91.6 532.5 L91.9 533.2 L92.2 533.8 L92.5 534.5 L92.8 535.2 L93.2 535.8 L93.6 536.4 L94.1 537.0 L94.5 537.5 L95.0 538.0 L95.5 538.5 L96.1 538.9 L96.7 539.4 L97.3 539.8 L98.0 540.2 L98.7 540.6 L99.4 541.0 L100.2 541.4 L101.0 541.7 L101.7 542.0 L102.5 542.3 L103.3 542.5 L104.1 542.7 L104.9 542.9 L105.6 543.1 L106.4 543.2 L107.1 543.3 L107.9 543.3 L108.7 543.3 L109.4 543.3 L110.2 543.2 L111.0 543.1 L111.8 542.9 L112.6 542.8 L113.4 542.6 L114.2 542.4 L114.9 542.3 L115.7 542.1 L116.5 541.9 L117.3 541.7 L118.0 541.5 L118.8 541.4 L119.6 541.2 L120.3 541.1 L121.1 540.9 L121.8 540.7 L122.5 540.5 L123.3 540.2 L124.0 540.0 L124.8 539.8 L125.5 539.6 L126.2 539.4 L127.0 539.2 L127.7 539.1 L128.4 539.0 L129.1 538.9 L129.8 538.8 L130.5 538.8 L131.2 538.8 L131.9 538.9 L132.6 539.0 L133.2 539.1 L133.9 539.2 L134.6 539.4 L135.3 539.6 L135.9 539.8 L136.6 540.0 L137.2 540.2 L137.9 540.5 L138.5 540.7 L139.1 541.0 L139.8 541.2 L140.4 541.5 L141.0 541.7 L141.6 541.9 L142.2 542.2 L142.8 542.5 L143.3 542.7 L143.9 543.0 L144.4 543.3 L145.0 543.6 L145.5 543.9 L146.1 544.2 L146.6 544.5 L147.2 544.8 L147.7 545.1 L148.3 545.5 L148.8 545.8 L149.4 546.1 L150.0 546.5 L150.6 546.9 L151.3 547.3 L152.0 547.7 L152.7 548.2 L153.4 548.6 L154.1 549.1 L154.8 549.6 L155.6 550.0 L156.3 550.5 L156.9 551.0 L157.6 551.4 L158.2 551.8 L158.7 552.2 L159.2 552.5 L159.6 552.8 L160.0 553.0" fill="none" stroke="#f4f6fa" stroke-width="20" stroke-linecap="butt"/>
<path d="M128.0 504.0 L127.7 504.2 L127.3 504.3 L126.9 504.5 L126.4 504.8 L125.9 505.0 L125.4 505.3 L124.8 505.6 L124.2 505.9 L123.5 506.2 L122.9 506.5 L122.2 506.8 L121.5 507.1 L120.9 507.4 L120.2 507.7 L119.5 508.0 L118.8 508.3 L118.1 508.6 L117.4 508.8 L116.6 509.1 L115.9 509.3 L115.1 509.6 L114.3 509.8 L113.5 510.0 L112.7 510.3 L111.9 510.5 L111.0 510.8 L110.2 511.1 L109.4 511.3 L108.6 511.6 L107.9 511.9 L107.1 512.2 L106.4 512.5 L105.7 512.8 L105.0 513.1 L104.3 513.5 L103.5 513.8 L102.8 514.1 L102.1 514.5 L101.4 514.8 L100.8 515.2 L100.1 515.5 L99.4 515.9 L98.8 516.3 L98.2 516.7 L97.6 517.1 L97.0 517.6 L96.5 518.0 L96.0 518.5 L95.5 519.0 L95.0 519.5 L94.6 520.0 L94.1 520.6 L93.7 521.1 L93.3 521.7 L92.9 522.3 L92.5 522.9 L92.1 523.5 L91.8 524.1 L91.6 524.7 L91.3 525.3 L91.1 526.0 L91.0 526.6 L90.9 527.2 L90.8 527.8 L90.8 528.4 L90.8 529.1 L90.9 529.7 L91.0 530.4 L91.2 531.1 L91.4 531.8 L91.6 532.5 L91.9 533.2 L92.2 533.8 L92.5 534.5 L92.8 535.2 L93.2 535.8 L93.6 536.4 L94.1 537.0 L94.5 537.5 L95.0 538.0 L95.5 538.5 L96.1 538.9 L96.7 539.4 L97.3 539.8 L98.0 540.2 L98.7 540.6 L99.4 541.0 L100.2 541.4 L101.0 541.7 L101.7 542.0 L102.5 542.3 L103.3 542.5 L104.1 542.7 L104.9 542.9 L105.6 543.1 L106.4 543.2 L107.1 543.3 L107.9 543.3 L108.7 543.3 L109.4 543.3 L110.2 543.2 L111.0 543.1 L111.8 542.9 L112.6 542.8 L113.4 542.6 L114.2 542.4 L114.9 542.3 L115.7 542.1 L116.5 541.9 L117.3 541.7 L118.0 541.5 L118.8 541.4 L119.6 541.2 L120.3 541.1 L121.1 540.9 L121.8 540.7 L122.5 540.5 L123.3 540.2 L124.0 540.0 L124.8 539.8 L125.5 539.6 L126.2 539.4 L127.0 539.2 L127.7 539.1 L128.4 539.0 L129.1 538.9 L129.8 538.8 L130.5 538.8 L131.2 538.8 L131.9 538.9 L132.6 539.0 L133.2 539.1 L133.9 539.2 L134.6 539.4 L135.3 539.6 L135.9 539.8 L136.6 540.0 L137.2 540.2 L137.9 540.5 L138.5 540.7 L139.1 541.0 L139.8 541.2 L140.4 541.5 L141.0 541.7 L141.6 541.9 L142.2 542.2 L142.8 542.5 L143.3 542.7 L143.9 543.0 L144.4 543.3 L145.0 543.6 L145.5 543.9 L146.1 544.2 L146.6 544.5 L147.2 544.8 L147.7 545.1 L148.3 545.5 L148.8 545.8 L149.4 546.1 L150.0 546.5 L150.6 546.9 L151.3 547.3 L152.0 547.7 L152.7 548.2 L153.4 548.6 L154.1 549.1 L154.8 549.6 L155.6 550.0 L156.3 550.5 L156.9 551.0 L157.6 551.4 L158.2 551.8 L158.7 552.2 L159.2 552.5 L159.6 552.8 L160.0 553.0" fill="none" stroke="#e3e8f0" stroke-width="16" stroke-dasharray="0.9 1.6"/>
<path d="M131.8 511.9 L131.5 512.1 L131.2 512.2 L130.8 512.4 L130.4 512.6 L129.8 512.9 L129.3 513.2 L128.7 513.5 L128.0 513.8 L127.4 514.1 L126.7 514.5 L125.9 514.8 L125.2 515.1 L124.4 515.5 L123.6 515.8 L122.8 516.2 L122.0 516.5 L121.1 516.8 L120.3 517.1 L119.4 517.4 L118.5 517.7 L117.7 518.0 L116.9 518.2 L116.0 518.5 L115.2 518.7 L114.5 519.0 L113.7 519.2 L113.0 519.4 L112.3 519.6 L111.6 519.9 L111.0 520.1 L110.5 520.3 L109.9 520.6 L109.3 520.9 L108.6 521.2 L107.9 521.5 L107.3 521.8 L106.6 522.1 L106.0 522.4 L105.5 522.6 L104.9 522.9 L104.4 523.2 L104.0 523.5 L103.5 523.7 L103.2 524.0 L102.8 524.2 L102.6 524.4 L102.3 524.6 L102.1 524.8 L101.8 525.1 L101.5 525.4 L101.2 525.8 L101.0 526.1 L100.7 526.4 L100.5 526.8 L100.2 527.1 L100.0 527.4 L99.9 527.7 L99.8 527.9 L99.7 528.1 L99.6 528.3 L99.6 528.4 L99.6 528.4 L99.6 528.4 L99.6 528.3 L99.6 528.2 L99.6 528.3 L99.6 528.5 L99.6 528.7 L99.7 528.9 L99.8 529.2 L99.9 529.5 L100.0 529.8 L100.1 530.1 L100.3 530.5 L100.5 530.7 L100.6 531.0 L100.8 531.3 L100.9 531.5 L101.1 531.6 L101.2 531.7 L101.3 531.8 L101.5 532.0 L101.7 532.2 L102.1 532.4 L102.4 532.6 L102.9 532.9 L103.3 533.1 L103.8 533.3 L104.3 533.5 L104.8 533.7 L105.3 533.9 L105.8 534.1 L106.3 534.2 L106.8 534.3 L107.2 534.4 L107.6 534.5 L107.8 534.5 L108.1 534.5 L108.4 534.5 L108.7 534.5 L109.2 534.4 L109.7 534.4 L110.2 534.3 L110.8 534.2 L111.5 534.0 L112.2 533.9 L112.9 533.7 L113.7 533.5 L114.5 533.3 L115.4 533.1 L116.3 532.9 L117.1 532.8 L117.7 532.6 L118.2 532.5 L118.8 532.4 L119.4 532.2 L120.1 532.0 L120.8 531.8 L121.5 531.6 L122.3 531.3 L123.2 531.1 L124.1 530.9 L125.0 530.6 L126.0 530.4 L127.1 530.3 L128.2 530.1 L129.4 530.0 L130.6 530.0 L131.7 530.0 L132.8 530.1 L133.9 530.3 L134.9 530.5 L135.9 530.7 L136.8 530.9 L137.7 531.1 L138.6 531.4 L139.4 531.7 L140.2 531.9 L141.0 532.2 L141.7 532.5 L142.4 532.8 L143.0 533.0 L143.6 533.3 L144.3 533.5 L145.0 533.8 L145.7 534.1 L146.5 534.5 L147.2 534.8 L147.9 535.1 L148.5 535.5 L149.2 535.8 L149.8 536.2 L150.4 536.5 L151.0 536.9 L151.6 537.2 L152.2 537.6 L152.8 537.9 L153.4 538.3 L153.9 538.6 L154.5 539.0 L155.2 539.4 L155.9 539.8 L156.7 540.3 L157.4 540.7 L158.2 541.2 L158.9 541.7 L159.7 542.2 L160.4 542.7 L161.1 543.2 L161.8 543.6 L162.5 544.1 L163.1 544.5 L163.6 544.8 L164.1 545.2 L164.5 545.4 L164.8 545.6" fill="none" stroke="#d2d8e4" stroke-width="3.4" stroke-linecap="round" stroke-dasharray="0 4.1"/>
<path d="M124.2 496.1 L123.9 496.2 L123.4 496.4 L123.0 496.7 L122.5 496.9 L122.0 497.2 L121.5 497.4 L120.9 497.7 L120.3 498.0 L119.7 498.3 L119.1 498.6 L118.5 498.8 L117.9 499.1 L117.3 499.4 L116.7 499.6 L116.1 499.9 L115.6 500.1 L115.1 500.3 L114.5 500.5 L113.9 500.7 L113.2 500.9 L112.5 501.2 L111.7 501.4 L110.9 501.6 L110.1 501.9 L109.3 502.1 L108.4 502.4 L107.5 502.7 L106.6 503.0 L105.7 503.3 L104.7 503.7 L103.8 504.1 L102.9 504.4 L102.1 504.8 L101.3 505.1 L100.6 505.5 L99.8 505.8 L99.0 506.2 L98.2 506.6 L97.4 507.0 L96.6 507.4 L95.7 507.9 L94.9 508.4 L94.1 508.9 L93.2 509.5 L92.4 510.1 L91.5 510.7 L90.7 511.4 L89.9 512.2 L89.2 512.9 L88.5 513.6 L87.9 514.3 L87.3 515.0 L86.7 515.8 L86.1 516.6 L85.5 517.5 L84.9 518.4 L84.4 519.3 L83.9 520.3 L83.4 521.3 L83.0 522.4 L82.7 523.5 L82.4 524.7 L82.1 526.0 L82.0 527.3 L82.0 528.6 L82.1 529.8 L82.2 531.0 L82.4 532.1 L82.6 533.3 L83.0 534.4 L83.3 535.4 L83.7 536.5 L84.2 537.5 L84.7 538.6 L85.2 539.6 L85.8 540.5 L86.5 541.5 L87.2 542.5 L88.0 543.4 L88.8 544.3 L89.7 545.1 L90.7 545.9 L91.6 546.6 L92.6 547.2 L93.6 547.8 L94.6 548.4 L95.6 548.9 L96.6 549.4 L97.6 549.8 L98.7 550.2 L99.7 550.6 L100.8 550.9 L101.9 551.2 L103.0 551.5 L104.0 551.7 L105.2 551.9 L106.5 552.1 L107.8 552.1 L109.0 552.1 L110.2 552.0 L111.3 551.9 L112.3 551.8 L113.4 551.6 L114.3 551.4 L115.3 551.2 L116.1 551.0 L117.0 550.8 L117.8 550.6 L118.5 550.5 L119.2 550.3 L119.8 550.2 L120.5 550.0 L121.4 549.9 L122.4 549.6 L123.3 549.4 L124.2 549.1 L125.0 548.9 L125.8 548.7 L126.5 548.5 L127.2 548.3 L127.8 548.1 L128.4 547.9 L128.9 547.8 L129.3 547.7 L129.7 547.7 L130.0 547.6 L130.2 547.6 L130.4 547.6 L130.6 547.6 L130.9 547.6 L131.2 547.7 L131.6 547.7 L132.0 547.8 L132.4 547.9 L132.8 548.0 L133.3 548.2 L133.7 548.3 L134.3 548.5 L134.8 548.7 L135.3 548.9 L135.9 549.1 L136.5 549.4 L137.1 549.6 L137.7 549.9 L138.2 550.1 L138.6 550.2 L139.1 550.4 L139.5 550.6 L139.9 550.9 L140.4 551.1 L140.8 551.3 L141.3 551.6 L141.7 551.8 L142.2 552.1 L142.7 552.4 L143.2 552.7 L143.8 553.0 L144.3 553.4 L144.9 553.7 L145.5 554.0 L146.0 554.4 L146.6 554.7 L147.2 555.1 L147.9 555.6 L148.6 556.0 L149.3 556.5 L150.0 556.9 L150.7 557.4 L151.4 557.8 L152.1 558.3 L152.7 558.7 L153.3 559.1 L153.8 559.5 L154.4 559.8 L154.8 560.1 L155.2 560.4" fill="none" stroke="#d2d8e4" stroke-width="3.4" stroke-linecap="round" stroke-dasharray="0 4.1"/>
<path d="M163.0 564.0 L172.0 575.0 L184.0 587.0" fill="none" stroke="#f4f6fa" stroke-width="31" stroke-linecap="butt"/>
<path d="M163.0 564.0 L172.0 575.0 L184.0 587.0" fill="none" stroke="#e3e8f0" stroke-width="27" stroke-dasharray="0.9 1.6"/>
<path d="M174.1 554.9 L182.6 565.4 L194.1 576.9" fill="none" stroke="#d2d8e4" stroke-width="3.4" stroke-linecap="round" stroke-dasharray="0 4.1"/>
<path d="M151.9 573.1 L161.4 584.6 L173.9 597.1" fill="none" stroke="#d2d8e4" stroke-width="3.4" stroke-linecap="round" stroke-dasharray="0 4.1"/>
<path d="M100.0 601.0 L100.6 601.1 L101.2 601.2 L101.9 601.4 L102.7 601.5 L103.6 601.7 L104.5 601.8 L105.5 602.0 L106.5 602.2 L107.6 602.4 L108.8 602.7 L110.0 602.9 L111.2 603.2 L112.5 603.4 L113.7 603.7 L115.1 604.0 L116.4 604.3 L117.8 604.6 L119.3 604.9 L120.8 605.3 L122.5 605.6 L124.2 606.0 L125.9 606.4 L127.6 606.8 L129.4 607.2 L131.2 607.6 L133.0 608.1 L134.8 608.5 L136.5 609.0 L138.2 609.5 L139.9 610.0 L141.5 610.5 L143.0 611.0 L144.5 611.6 L145.9 612.2 L147.3 612.9 L148.7 613.6 L150.1 614.3 L151.4 615.0 L152.7 615.8 L154.0 616.5 L155.3 617.3 L156.5 618.0 L157.8 618.7 L159.0 619.4 L160.2 620.0 L161.4 620.5 L162.6 621.0 L163.8 621.4 L165.0 621.7 L166.2 622.0 L167.3 622.3 L168.5 622.5 L169.6 622.7 L170.7 622.8 L171.9 622.9 L173.0 623.0 L174.0 623.0 L175.1 623.0 L176.1 623.0 L177.1 623.0 L178.1 622.9 L179.1 622.8 L180.0 622.7 L180.9 622.6 L181.8 622.5 L182.6 622.3 L183.4 622.1 L184.2 621.8 L184.9 621.6 L185.7 621.3 L186.4 621.0 L187.1 620.7 L187.8 620.3 L188.4 619.9 L189.0 619.6 L189.7 619.2 L190.3 618.8 L190.8 618.3 L191.4 617.9 L192.0 617.5 L192.6 617.1 L193.1 616.6 L193.6 616.1 L194.2 615.6 L194.7 615.1 L195.2 614.6 L195.6 614.0 L196.1 613.5 L196.5 612.9 L197.0 612.4 L197.4 611.8 L197.7 611.2 L198.1 610.7 L198.4 610.1 L198.7 609.6 L199.0 609.0 L199.2 608.4 L199.5 607.8 L199.6 607.2 L199.8 606.6 L199.9 605.9 L200.0 605.3 L200.1 604.6 L200.2 604.0 L200.2 603.3 L200.3 602.7 L200.3 602.2 L200.4 601.6 L200.4 601.1 L200.4 600.7 L200.5 600.3 L200.5 600.0" fill="none" stroke="#f4f6fa" stroke-width="19.5" stroke-linecap="butt"/>
<path d="M100.0 601.0 L100.6 601.1 L101.2 601.2 L101.9 601.4 L102.7 601.5 L103.6 601.7 L104.5 601.8 L105.5 602.0 L106.5 602.2 L107.6 602.4 L108.8 602.7 L110.0 602.9 L111.2 603.2 L112.5 603.4 L113.7 603.7 L115.1 604.0 L116.4 604.3 L117.8 604.6 L119.3 604.9 L120.8 605.3 L122.5 605.6 L124.2 606.0 L125.9 606.4 L127.6 606.8 L129.4 607.2 L131.2 607.6 L133.0 608.1 L134.8 608.5 L136.5 609.0 L138.2 609.5 L139.9 610.0 L141.5 610.5 L143.0 611.0 L144.5 611.6 L145.9 612.2 L147.3 612.9 L148.7 613.6 L150.1 614.3 L151.4 615.0 L152.7 615.8 L154.0 616.5 L155.3 617.3 L156.5 618.0 L157.8 618.7 L159.0 619.4 L160.2 620.0 L161.4 620.5 L162.6 621.0 L163.8 621.4 L165.0 621.7 L166.2 622.0 L167.3 622.3 L168.5 622.5 L169.6 622.7 L170.7 622.8 L171.9 622.9 L173.0 623.0 L174.0 623.0 L175.1 623.0 L176.1 623.0 L177.1 623.0 L178.1 622.9 L179.1 622.8 L180.0 622.7 L180.9 622.6 L181.8 622.5 L182.6 622.3 L183.4 622.1 L184.2 621.8 L184.9 621.6 L185.7 621.3 L186.4 621.0 L187.1 620.7 L187.8 620.3 L188.4 619.9 L189.0 619.6 L189.7 619.2 L190.3 618.8 L190.8 618.3 L191.4 617.9 L192.0 617.5 L192.6 617.1 L193.1 616.6 L193.6 616.1 L194.2 615.6 L194.7 615.1 L195.2 614.6 L195.6 614.0 L196.1 613.5 L196.5 612.9 L197.0 612.4 L197.4 611.8 L197.7 611.2 L198.1 610.7 L198.4 610.1 L198.7 609.6 L199.0 609.0 L199.2 608.4 L199.5 607.8 L199.6 607.2 L199.8 606.6 L199.9 605.9 L200.0 605.3 L200.1 604.6 L200.2 604.0 L200.2 603.3 L200.3 602.7 L200.3 602.2 L200.4 601.6 L200.4 601.1 L200.4 600.7 L200.5 600.3 L200.5 600.0" fill="none" stroke="#e3e8f0" stroke-width="15.5" stroke-dasharray="0.9 1.6"/>
<path d="M101.7 592.6 L102.2 592.7 L102.8 592.8 L103.5 593.0 L104.3 593.1 L105.1 593.3 L106.1 593.4 L107.1 593.6 L108.1 593.8 L109.3 594.1 L110.4 594.3 L111.7 594.5 L112.9 594.8 L114.2 595.1 L115.6 595.4 L116.9 595.7 L118.3 596.0 L119.7 596.3 L121.1 596.6 L122.7 596.9 L124.3 597.3 L126.0 597.7 L127.7 598.1 L129.5 598.5 L131.4 598.9 L133.2 599.3 L135.1 599.8 L136.9 600.2 L138.8 600.7 L140.6 601.3 L142.4 601.8 L144.2 602.4 L145.9 603.0 L147.7 603.7 L149.4 604.4 L151.1 605.2 L152.7 606.0 L154.2 606.8 L155.6 607.6 L157.0 608.4 L158.3 609.2 L159.6 609.9 L160.7 610.6 L161.9 611.2 L162.9 611.8 L163.9 612.2 L164.8 612.7 L165.6 613.0 L166.4 613.2 L167.2 613.5 L168.1 613.7 L169.0 613.9 L169.9 614.1 L170.8 614.2 L171.6 614.3 L172.5 614.4 L173.4 614.4 L174.2 614.5 L175.1 614.5 L175.9 614.5 L176.7 614.4 L177.5 614.4 L178.3 614.3 L179.0 614.2 L179.7 614.1 L180.2 614.1 L180.7 614.0 L181.1 613.8 L181.6 613.7 L182.0 613.6 L182.4 613.4 L182.8 613.2 L183.2 613.0 L183.7 612.8 L184.1 612.6 L184.5 612.3 L185.0 612.0 L185.4 611.7 L185.9 611.4 L186.4 611.0 L186.8 610.7 L187.2 610.4 L187.5 610.1 L187.8 609.8 L188.2 609.5 L188.5 609.2 L188.8 608.8 L189.1 608.5 L189.5 608.1 L189.8 607.7 L190.0 607.4 L190.3 607.0 L190.5 606.6 L190.8 606.2 L191.0 605.9 L191.2 605.6 L191.3 605.4 L191.3 605.3 L191.3 605.2 L191.4 605.0 L191.4 604.8 L191.5 604.4 L191.6 604.0 L191.6 603.6 L191.7 603.1 L191.7 602.6 L191.8 602.1 L191.8 601.6 L191.8 601.1 L191.9 600.6 L191.9 600.0 L192.0 599.4 L192.0 598.9" fill="none" stroke="#d2d8e4" stroke-width="3.4" stroke-linecap="round" stroke-dasharray="0 4.1"/>
<path d="M98.3 609.4 L98.9 609.5 L99.6 609.6 L100.3 609.8 L101.1 609.9 L102.0 610.1 L102.9 610.3 L103.9 610.4 L104.9 610.6 L106.0 610.8 L107.1 611.1 L108.3 611.3 L109.5 611.5 L110.7 611.8 L111.9 612.1 L113.2 612.3 L114.5 612.6 L115.9 613.0 L117.4 613.3 L119.0 613.6 L120.6 614.0 L122.3 614.4 L124.0 614.7 L125.7 615.1 L127.5 615.5 L129.2 615.9 L130.9 616.4 L132.6 616.8 L134.3 617.2 L135.8 617.7 L137.4 618.1 L138.8 618.6 L140.1 619.0 L141.2 619.5 L142.4 620.0 L143.5 620.5 L144.7 621.1 L145.9 621.8 L147.2 622.5 L148.4 623.2 L149.7 623.9 L151.0 624.7 L152.3 625.4 L153.7 626.2 L155.1 627.0 L156.5 627.7 L158.0 628.4 L159.6 629.0 L161.2 629.6 L162.8 630.0 L164.2 630.4 L165.7 630.7 L167.1 630.9 L168.5 631.1 L169.9 631.3 L171.2 631.4 L172.5 631.5 L173.8 631.6 L175.1 631.6 L176.4 631.5 L177.6 631.5 L178.8 631.4 L179.9 631.3 L181.0 631.2 L182.1 631.1 L183.3 630.9 L184.5 630.6 L185.7 630.3 L186.8 630.0 L187.9 629.6 L189.0 629.2 L190.0 628.8 L190.9 628.3 L191.8 627.8 L192.7 627.3 L193.5 626.8 L194.3 626.3 L195.1 625.8 L195.8 625.3 L196.5 624.8 L197.2 624.3 L197.9 623.7 L198.7 623.1 L199.4 622.4 L200.2 621.7 L200.8 621.0 L201.5 620.3 L202.1 619.6 L202.7 618.9 L203.3 618.1 L203.9 617.4 L204.4 616.6 L204.9 615.9 L205.4 615.1 L205.9 614.3 L206.3 613.5 L206.7 612.6 L207.2 611.6 L207.6 610.5 L207.9 609.4 L208.2 608.4 L208.3 607.4 L208.5 606.5 L208.6 605.6 L208.7 604.8 L208.8 604.0 L208.8 603.3 L208.9 602.7 L208.9 602.2 L208.9 601.7 L208.9 601.4 L209.0 601.3 L209.0 601.1" fill="none" stroke="#d2d8e4" stroke-width="3.4" stroke-linecap="round" stroke-dasharray="0 4.1"/>
<defs><linearGradient id="mfade" x1="0" y1="0" x2="1" y2="0"><stop offset="0" stop-color="#fff" stop-opacity="1"/><stop offset="1" stop-color="#fff" stop-opacity="0"/></linearGradient></defs>
<path d="M14.0 599.5 L40.0 599.5" fill="none" stroke="#f4f6fa" stroke-width="20" stroke-linecap="butt"/>
<path d="M14.0 599.5 L40.0 599.5" fill="none" stroke="#e3e8f0" stroke-width="16" stroke-dasharray="0.9 1.6"/>
<path d="M14.0 590.7 L40.0 590.7" fill="none" stroke="#d2d8e4" stroke-width="3.4" stroke-linecap="round" stroke-dasharray="0 4.1"/>
<path d="M14.0 608.3 L40.0 608.3" fill="none" stroke="#d2d8e4" stroke-width="3.4" stroke-linecap="round" stroke-dasharray="0 4.1"/>
<rect x="12" y="586" width="16" height="28" fill="url(#mfade)"/>
<circle cx="69.8" cy="403.9" r="3.15" fill="#1a8495" stroke="#0f6878" stroke-width="0.5"/>
<circle cx="76.3" cy="402.0" r="3.15" fill="#1a8495" stroke="#0f6878" stroke-width="0.5"/>
<circle cx="82.9" cy="400.6" r="3.15" fill="#1a8495" stroke="#0f6878" stroke-width="0.5"/>
<circle cx="89.6" cy="399.2" r="3.15" fill="#1a8495" stroke="#0f6878" stroke-width="0.5"/>
<circle cx="96.2" cy="397.6" r="3.15" fill="#1a8495" stroke="#0f6878" stroke-width="0.5"/>
<circle cx="102.8" cy="396.1" r="3.15" fill="#1a8495" stroke="#0f6878" stroke-width="0.5"/>
<circle cx="109.5" cy="395.0" r="3.15" fill="#1a8495" stroke="#0f6878" stroke-width="0.5"/>
<circle cx="116.3" cy="394.6" r="3.15" fill="#1a8495" stroke="#0f6878" stroke-width="0.5"/>
<circle cx="122.8" cy="396.3" r="3.15" fill="#1a8495" stroke="#0f6878" stroke-width="0.5"/>
<circle cx="127.9" cy="400.8" r="3.15" fill="#1a8495" stroke="#0f6878" stroke-width="0.5"/>
<circle cx="131.3" cy="406.7" r="3.15" fill="#1a8495" stroke="#0f6878" stroke-width="0.5"/>
<circle cx="132.6" cy="413.3" r="3.15" fill="#1a8495" stroke="#0f6878" stroke-width="0.5"/>
<circle cx="132.5" cy="420.1" r="3.15" fill="#1a8495" stroke="#0f6878" stroke-width="0.5"/>
<circle cx="130.4" cy="426.5" r="3.15" fill="#1a8495" stroke="#0f6878" stroke-width="0.5"/>
<circle cx="125.4" cy="431.0" r="3.15" fill="#1a8495" stroke="#0f6878" stroke-width="0.5"/>
<circle cx="119.6" cy="434.6" r="3.15" fill="#1a8495" stroke="#0f6878" stroke-width="0.5"/>
<circle cx="113.6" cy="437.9" r="3.15" fill="#1a8495" stroke="#0f6878" stroke-width="0.5"/>
<circle cx="107.7" cy="441.2" r="3.15" fill="#1a8495" stroke="#0f6878" stroke-width="0.5"/>
<circle cx="101.8" cy="444.5" r="3.15" fill="#1a8495" stroke="#0f6878" stroke-width="0.5"/>
<circle cx="95.8" cy="447.8" r="3.15" fill="#1a8495" stroke="#0f6878" stroke-width="0.5"/>
<circle cx="89.9" cy="451.1" r="3.15" fill="#1a8495" stroke="#0f6878" stroke-width="0.5"/>
<circle cx="83.6" cy="453.7" r="3.15" fill="#1a8495" stroke="#0f6878" stroke-width="0.5"/>
<circle cx="76.9" cy="454.6" r="3.15" fill="#1a8495" stroke="#0f6878" stroke-width="0.5"/>
<circle cx="70.5" cy="452.7" r="3.15" fill="#1a8495" stroke="#0f6878" stroke-width="0.5"/>
<circle cx="65.2" cy="448.4" r="3.15" fill="#1a8495" stroke="#0f6878" stroke-width="0.5"/>
<circle cx="60.6" cy="443.4" r="3.15" fill="#1a8495" stroke="#0f6878" stroke-width="0.5"/>
<circle cx="56.9" cy="437.7" r="3.15" fill="#1a8495" stroke="#0f6878" stroke-width="0.5"/>
<circle cx="54.9" cy="431.2" r="3.15" fill="#1a8495" stroke="#0f6878" stroke-width="0.5"/>
<circle cx="54.5" cy="424.5" r="3.15" fill="#1a8495" stroke="#0f6878" stroke-width="0.5"/>
<circle cx="55.8" cy="417.8" r="3.15" fill="#1a8495" stroke="#0f6878" stroke-width="0.5"/>
<circle cx="58.9" cy="411.8" r="3.15" fill="#1a8495" stroke="#0f6878" stroke-width="0.5"/>
<circle cx="63.8" cy="407.1" r="3.15" fill="#1a8495" stroke="#0f6878" stroke-width="0.5"/>
<path d="M71.0 407.1 L71.6 406.9 L72.2 406.7 L72.9 406.4 L73.6 406.2 L74.3 406.0 L75.1 405.8 L75.8 405.6 L76.6 405.4 L77.4 405.2 L78.2 405.1 L79.0 404.9 L79.9 404.7 L80.7 404.5 L81.6 404.3 L82.4 404.2 L83.3 404.0 L84.2 403.8 L85.0 403.6 L85.9 403.5 L86.7 403.3 L87.6 403.1 L88.4 403.0 L89.2 402.8 L90.0 402.6 L90.8 402.4 L91.6 402.2 L92.4 402.0 L93.3 401.8 L94.1 401.6 L94.9 401.4 L95.8 401.2 L96.6 401.0 L97.5 400.8 L98.3 400.6 L99.2 400.4 L100.0 400.2 L100.8 400.0 L101.6 399.8 L102.5 399.7 L103.3 399.5 L104.1 399.3 L104.8 399.2 L105.6 399.0 L106.3 398.9 L107.1 398.8 L107.8 398.7 L108.4 398.6 L109.1 398.5 L109.7 398.4 L110.4 398.4 L111.0 398.3 L111.6 398.2 L112.1 398.2 L112.7 398.1 L113.2 398.1 L113.8 398.1 L114.3 398.0 L114.8 398.0 L115.3 398.0 L115.8 398.0 L116.3 398.0 L116.7 398.1 L117.2 398.1 L117.6 398.2 L118.1 398.2 L118.5 398.3 L118.9 398.4 L119.4 398.5 L119.8 398.7 L120.2 398.8 L120.6 399.0 L121.0 399.2 L121.4 399.4 L121.8 399.7 L122.2 399.9 L122.6 400.2 L122.9 400.5 L123.3 400.8 L123.7 401.1 L124.0 401.5 L124.4 401.9 L124.7 402.2 L125.0 402.6 L125.4 403.0 L125.7 403.4 L126.0 403.9 L126.3 404.3 L126.5 404.7 L126.8 405.2 L127.1 405.6 L127.3 406.1 L127.5 406.5 L127.7 407.0 L127.9 407.5 L128.1 407.9 L128.3 408.4 L128.5 408.9 L128.6 409.4 L128.7 409.9 L128.8 410.4 L128.9 411.0 L129.0 411.6 L129.1 412.1 L129.2 412.7 L129.2 413.3 L129.3 413.9 L129.3 414.5 L129.3 415.1 L129.3 415.7 L129.3 416.3 L129.3 416.9 L129.3 417.5 L129.3 418.0 L129.2 418.6 L129.2 419.1 L129.1 419.6 L129.1 420.1 L129.0 420.6 L128.9 421.1 L128.8 421.5 L128.7 421.9 L128.6 422.3 L128.5 422.6 L128.4 423.0 L128.3 423.3 L128.1 423.6 L128.0 423.8 L127.9 424.1 L127.7 424.4 L127.5 424.6 L127.4 424.8 L127.2 425.1 L127.0 425.3 L126.8 425.5 L126.5 425.8 L126.3 426.0 L126.0 426.2 L125.7 426.5 L125.4 426.7 L125.1 427.0 L124.8 427.2 L124.4 427.5 L124.0 427.8 L123.6 428.1 L123.2 428.4 L122.7 428.8 L122.2 429.1 L121.7 429.4 L121.1 429.8 L120.5 430.1 L119.9 430.5 L119.3 430.9 L118.7 431.2 L118.0 431.6 L117.3 432.0 L116.7 432.3 L116.0 432.7 L115.3 433.1 L114.6 433.5 L113.9 433.8 L113.2 434.2 L112.5 434.6 L111.8 435.0 L111.1 435.3 L110.5 435.7 L109.8 436.1 L109.1 436.4 L108.5 436.8 L107.9 437.2 L107.2 437.5 L106.6 437.9 L105.9 438.3 L105.3 438.6 L104.6 439.0 L104.0 439.4 L103.3 439.7 L102.6 440.1 L102.0 440.5 L101.3 440.9 L100.7 441.2 L100.0 441.6 L99.4 441.9 L98.7 442.3 L98.1 442.6 L97.5 443.0 L96.9 443.3 L96.2 443.7 L95.7 444.0 L95.1 444.3 L94.5 444.6 L93.9 444.9 L93.4 445.2 L92.9 445.5 L92.4 445.8 L91.9 446.0 L91.4 446.3 L90.9 446.6 L90.5 446.9 L90.0 447.1 L89.6 447.4 L89.1 447.6 L88.7 447.9 L88.3 448.1 L87.9 448.4 L87.5 448.6 L87.0 448.8 L86.6 449.0 L86.2 449.2 L85.8 449.4 L85.4 449.6 L85.0 449.8 L84.6 449.9 L84.2 450.0 L83.8 450.2 L83.3 450.3 L82.9 450.4 L82.5 450.5 L82.0 450.6 L81.6 450.7 L81.2 450.8 L80.7 450.9 L80.3 450.9 L79.9 451.0 L79.4 451.1 L79.0 451.1 L78.6 451.2 L78.1 451.2 L77.7 451.2 L77.2 451.2 L76.8 451.2 L76.4 451.2 L75.9 451.1 L75.5 451.0 L75.0 450.9 L74.6 450.8 L74.1 450.7 L73.7 450.5 L73.2 450.3 L72.8 450.1 L72.3 449.8 L71.8 449.5 L71.3 449.2 L70.8 448.8 L70.3 448.4 L69.8 448.0 L69.2 447.5 L68.7 447.0 L68.1 446.5 L67.6 446.0 L67.0 445.5 L66.4 444.9 L65.9 444.3 L65.4 443.7 L64.8 443.2 L64.3 442.6 L63.8 442.0 L63.3 441.3 L62.8 440.7 L62.4 440.1 L61.9 439.6 L61.5 439.0 L61.2 438.4 L60.8 437.8 L60.5 437.3 L60.2 436.8 L59.9 436.2 L59.7 435.7 L59.5 435.1 L59.2 434.6 L59.1 434.0 L58.9 433.4 L58.7 432.9 L58.6 432.3 L58.4 431.8 L58.3 431.2 L58.2 430.6 L58.1 430.1 L58.1 429.5 L58.0 428.9 L57.9 428.4 L57.9 427.8 L57.9 427.3 L57.9 426.8 L57.9 426.2 L57.9 425.7 L57.9 425.2 L57.9 424.7 L57.9 424.2 L57.9 423.7 L58.0 423.2 L58.0 422.7 L58.1 422.3 L58.2 421.8 L58.3 421.3 L58.4 420.8 L58.5 420.4 L58.7 419.9 L58.8 419.4 L58.9 419.0 L59.1 418.5 L59.3 418.1 L59.5 417.7 L59.7 417.2 L59.9 416.8 L60.1 416.4 L60.3 416.0 L60.5 415.6 L60.8 415.2 L61.0 414.8 L61.3 414.4 L61.5 414.1 L61.8 413.7 L62.1 413.3 L62.3 413.0 L62.6 412.7 L62.9 412.3 L63.2 412.0 L63.5 411.7 L63.8 411.4 L64.1 411.1 L64.4 410.8 L64.8 410.6 L65.1 410.3 L65.5 410.0 L65.8 409.8 L66.2 409.5 L66.6 409.2 L67.0 409.0 L67.4 408.8 L67.9 408.5 L68.4 408.3 L68.8 408.0 L69.3 407.8 L69.9 407.6 L70.4 407.3 Z" fill="#fff" stroke="#111" stroke-width="1.05" stroke-linejoin="round"/>
<circle cx="114.6" cy="401.0" r="3.15" fill="#1a8495" stroke="#0f6878" stroke-width="0.5"/>
<circle cx="120.6" cy="403.8" r="3.15" fill="#1a8495" stroke="#0f6878" stroke-width="0.5"/>
<circle cx="125.0" cy="408.4" r="3.15" fill="#1a8495" stroke="#0f6878" stroke-width="0.5"/>
<rect x="72.05" y="421.75" width="5.10" height="13.70" rx="2.40" fill="#f6bd8a" stroke="#111" stroke-width="0.9" transform="rotate(-18.0 74.60 428.60)"/>
<rect x="77.42" y="419.65" width="5.10" height="13.70" rx="2.40" fill="#f8cba2" stroke="#111" stroke-width="0.9" transform="rotate(-18.0 79.97 426.50)"/>
<rect x="82.79" y="417.55" width="5.10" height="13.70" rx="2.40" fill="#f6bd8a" stroke="#111" stroke-width="0.9" transform="rotate(-18.0 85.34 424.40)"/>
<rect x="88.16" y="415.45" width="5.10" height="13.70" rx="2.40" fill="#f8cba2" stroke="#111" stroke-width="0.9" transform="rotate(-18.0 90.71 422.30)"/>
<rect x="93.54" y="413.35" width="5.10" height="13.70" rx="2.40" fill="#f6bd8a" stroke="#111" stroke-width="0.9" transform="rotate(-18.0 96.09 420.20)"/>
<rect x="98.91" y="411.25" width="5.10" height="13.70" rx="2.40" fill="#fce3cd" stroke="#111" stroke-width="0.9" transform="rotate(-18.0 101.46 418.10)"/>
<rect x="104.28" y="409.15" width="5.10" height="13.70" rx="2.40" fill="#f8cba2" stroke="#111" stroke-width="0.9" transform="rotate(-18.0 106.83 416.00)"/>
<rect x="109.65" y="407.05" width="5.10" height="13.70" rx="2.40" fill="#f6bd8a" stroke="#111" stroke-width="0.9" transform="rotate(-18.0 112.20 413.90)"/>
<circle cx="123.3" cy="421.3" r="3.0" fill="#e5577f" stroke="#cf4a73" stroke-width="0.6"/>
<circle cx="82.1" cy="467.3" r="3.15" fill="#1a8495" stroke="#0f6878" stroke-width="0.5"/>
<circle cx="88.0" cy="464.9" r="3.15" fill="#1a8495" stroke="#0f6878" stroke-width="0.5"/>
<circle cx="94.4" cy="463.4" r="3.15" fill="#1a8495" stroke="#0f6878" stroke-width="0.5"/>
<circle cx="101.3" cy="462.8" r="3.15" fill="#1a8495" stroke="#0f6878" stroke-width="0.5"/>
<circle cx="108.1" cy="462.6" r="3.15" fill="#1a8495" stroke="#0f6878" stroke-width="0.5"/>
<circle cx="115.1" cy="462.0" r="3.15" fill="#1a8495" stroke="#0f6878" stroke-width="0.5"/>
<circle cx="121.9" cy="460.6" r="3.15" fill="#1a8495" stroke="#0f6878" stroke-width="0.5"/>
<circle cx="128.4" cy="459.0" r="3.15" fill="#1a8495" stroke="#0f6878" stroke-width="0.5"/>
<path d="M85.9 467.8 L86.2 467.7 L86.6 467.6 L87.0 467.5 L87.4 467.4 L87.8 467.3 L88.3 467.3 L88.7 467.2 L89.2 467.2 L89.7 467.1 L90.2 467.1 L90.7 467.0 L91.3 467.0 L91.8 467.0 L92.4 466.9 L92.9 466.9 L93.5 466.9 L94.1 466.9 L94.6 466.8 L95.2 466.8 L95.8 466.8 L96.3 466.7 L96.9 466.7 L97.4 466.7 L98.0 466.6 L98.5 466.5 L99.1 466.5 L99.6 466.5 L100.2 466.4 L100.7 466.4 L101.3 466.3 L101.8 466.3 L102.3 466.3 L102.9 466.2 L103.5 466.2 L104.0 466.1 L104.6 466.1 L105.2 466.1 L105.7 466.0 L106.3 466.0 L106.9 465.9 L107.6 465.8 L108.2 465.7 L108.8 465.7 L109.5 465.6 L110.2 465.5 L110.9 465.4 L111.6 465.2 L112.3 465.1 L113.1 464.9 L113.9 464.8 L114.7 464.6 L115.6 464.4 L116.4 464.2 L117.4 463.9 L118.3 463.7 L119.2 463.4 L120.2 463.2 L121.2 462.9 L122.2 462.6 L123.1 462.4 L124.1 462.1 L125.1 461.9 L126.0 461.6 L127.0 461.3 L127.9 461.1 L128.8 460.9 L129.7 460.6 L130.5 460.4 L131.3 460.3 L132.1 460.1 L132.8 459.9 L133.5 459.8 L134.1 459.7 L134.8 459.6 L135.3 459.5 L135.9 459.4 L136.4 459.3 L136.9 459.2 L137.4 459.1 L137.9 459.1 L138.3 459.0 L138.8 459.0 L139.2 458.9 L139.6 458.9 L140.0 458.9 L140.4 458.9 L140.7 458.9 L141.1 458.9 L141.5 458.9 L141.8 458.9 L142.2 459.0 L142.6 459.0 L142.9 459.1 L143.3 459.2 L143.7 459.3 L144.1 459.4 L144.5 459.5 L144.9 459.6 L145.3 459.7 L145.7 459.8 L146.1 459.9 L146.5 460.1 L146.9 460.2 L147.3 460.3 L147.7 460.4 L148.1 460.6 L148.5 460.8 L148.9 460.9 L149.3 461.2 L149.6 461.4 L150.0 461.6 L150.3 461.9 L150.7 462.2 L151.0 462.5 L151.3 462.9 L151.6 463.3 L151.9 463.7 L152.1 464.2 L152.4 464.7 L152.6 465.3 L152.8 465.9 L153.0 466.6 L153.2 467.3 L153.4 468.2 L153.5 469.0 L153.7 469.9 L153.8 470.8 L153.9 471.8 L154.0 472.8 L154.1 473.8 L154.2 474.9 L154.3 475.9 L154.4 477.0 L154.5 478.0 L154.5 479.1 L154.6 480.1 L154.6 481.2 L154.6 482.1 L154.7 483.1 L154.7 484.0 L154.7 484.9 L154.7 485.8 L154.7 486.6 L154.7 487.3 L154.7 488.0 L154.7 488.7 L154.7 489.3 L154.7 489.9 L154.6 490.5 L154.6 491.1 L154.6 491.6 L154.5 492.2 L154.5 492.7 L154.4 493.2 L154.3 493.7 L154.3 494.1 L154.2 494.6 L154.1 495.0 L154.0 495.5 L153.9 495.9 L153.7 496.3 L153.6 496.7 L153.4 497.1 L153.3 497.5 L153.1 497.9 L152.9 498.2 L152.7 498.6 L152.5 499.0 L152.3 499.4 L152.1 499.7 L151.9 500.1 L151.7 500.4 L151.5 500.7 L151.4 501.1 L151.2 501.4 L151.0 501.7 L150.8 501.9 L150.6 502.2 L150.3 502.5 L150.1 502.8 L149.8 503.0 L149.5 503.2 L149.2 503.5 L148.8 503.7 L148.4 503.9 L147.9 504.1 L147.4 504.4 L146.8 504.6 L146.2 504.8 L145.5 504.9 L144.8 505.1 L144.0 505.3 L143.1 505.5 L142.1 505.6 L141.0 505.8 L139.9 505.9 L138.7 506.1 L137.4 506.2 L136.0 506.3 L134.6 506.4 L133.2 506.6 L131.7 506.7 L130.2 506.8 L128.7 506.8 L127.2 506.9 L125.6 507.0 L124.1 507.1 L122.6 507.1 L121.2 507.2 L119.7 507.2 L118.3 507.3 L117.0 507.3 L115.7 507.3 L114.5 507.4 L113.4 507.4 L112.3 507.4 L111.3 507.4 L110.4 507.4 L109.4 507.4 L108.5 507.4 L107.7 507.4 L106.9 507.4 L106.1 507.4 L105.3 507.4 L104.6 507.4 L103.9 507.3 L103.2 507.3 L102.5 507.2 L101.9 507.2 L101.2 507.1 L100.6 507.0 L100.0 506.9 L99.4 506.8 L98.8 506.7 L98.2 506.6 L97.7 506.5 L97.1 506.3 L96.5 506.2 L96.0 506.0 L95.4 505.8 L94.8 505.6 L94.3 505.4 L93.8 505.2 L93.2 504.9 L92.7 504.7 L92.2 504.4 L91.7 504.1 L91.3 503.9 L90.8 503.6 L90.3 503.3 L89.9 503.0 L89.5 502.6 L89.1 502.3 L88.6 501.9 L88.2 501.6 L87.9 501.2 L87.5 500.8 L87.1 500.4 L86.8 500.0 L86.4 499.6 L86.1 499.2 L85.8 498.7 L85.5 498.3 L85.2 497.8 L84.9 497.3 L84.7 496.8 L84.4 496.2 L84.2 495.7 L83.9 495.1 L83.7 494.5 L83.5 493.9 L83.4 493.2 L83.2 492.6 L83.0 491.9 L82.9 491.2 L82.7 490.6 L82.6 489.9 L82.5 489.2 L82.3 488.5 L82.2 487.9 L82.1 487.2 L82.0 486.6 L82.0 485.9 L81.9 485.3 L81.8 484.7 L81.7 484.1 L81.7 483.5 L81.6 483.0 L81.5 482.5 L81.5 482.0 L81.5 481.4 L81.4 480.9 L81.4 480.4 L81.4 479.9 L81.4 479.4 L81.4 479.0 L81.4 478.5 L81.4 478.0 L81.5 477.6 L81.5 477.1 L81.5 476.7 L81.6 476.2 L81.6 475.8 L81.7 475.4 L81.8 475.0 L81.8 474.6 L81.9 474.2 L82.0 473.9 L82.0 473.5 L82.1 473.2 L82.2 472.8 L82.3 472.5 L82.4 472.2 L82.5 471.9 L82.6 471.6 L82.6 471.3 L82.7 471.1 L82.8 470.8 L82.9 470.6 L83.0 470.4 L83.1 470.2 L83.2 470.0 L83.3 469.8 L83.4 469.6 L83.5 469.4 L83.7 469.2 L83.8 469.1 L84.0 468.9 L84.1 468.7 L84.3 468.6 L84.5 468.5 L84.8 468.3 L85.0 468.2 L85.3 468.1 L85.6 467.9 Z" fill="#fff" stroke="#111" stroke-width="1.05" stroke-linejoin="round"/>
<rect x="88.30" y="472.20" width="5.00" height="14.00" rx="2.20" fill="#f6bd8a" stroke="#111" stroke-width="1.1" transform="rotate(-2.0 90.80 479.20)"/>
<rect x="88.30" y="486.20" width="5.00" height="13.60" rx="2.20" fill="#a9a9ab" stroke="#111" stroke-width="1.1" transform="rotate(-2.0 90.80 493.00)"/>
<rect x="94.16" y="471.87" width="5.00" height="14.00" rx="2.20" fill="#f6bd8a" stroke="#111" stroke-width="1.1" transform="rotate(-2.0 96.66 478.87)"/>
<rect x="94.16" y="485.87" width="5.00" height="13.60" rx="2.20" fill="#f6bd8a" stroke="#111" stroke-width="1.1" transform="rotate(-2.0 96.66 492.67)"/>
<rect x="100.02" y="471.54" width="5.00" height="14.00" rx="2.20" fill="#f2a965" stroke="#111" stroke-width="1.1" transform="rotate(-2.0 102.52 478.54)"/>
<rect x="100.02" y="485.54" width="5.00" height="13.60" rx="2.20" fill="#f8cba2" stroke="#111" stroke-width="1.1" transform="rotate(-2.0 102.52 492.34)"/>
<rect x="105.88" y="471.21" width="5.00" height="14.00" rx="2.20" fill="#f6bd8a" stroke="#111" stroke-width="1.1" transform="rotate(-2.0 108.38 478.21)"/>
<rect x="105.88" y="485.21" width="5.00" height="13.60" rx="2.20" fill="#f2a965" stroke="#111" stroke-width="1.1" transform="rotate(-2.0 108.38 492.01)"/>
<rect x="111.74" y="470.88" width="5.00" height="14.00" rx="2.20" fill="#a9a9ab" stroke="#111" stroke-width="1.1" transform="rotate(-2.0 114.24 477.88)"/>
<rect x="111.74" y="484.88" width="5.00" height="13.60" rx="2.20" fill="#a9a9ab" stroke="#111" stroke-width="1.1" transform="rotate(-2.0 114.24 491.68)"/>
<rect x="117.60" y="470.55" width="5.00" height="14.00" rx="2.20" fill="#f2a965" stroke="#111" stroke-width="1.1" transform="rotate(-2.0 120.10 477.55)"/>
<rect x="117.60" y="484.55" width="5.00" height="13.60" rx="2.20" fill="#f6bd8a" stroke="#111" stroke-width="1.1" transform="rotate(-2.0 120.10 491.35)"/>
<rect x="123.46" y="470.22" width="5.00" height="14.00" rx="2.20" fill="#f6bd8a" stroke="#111" stroke-width="1.1" transform="rotate(-2.0 125.96 477.22)"/>
<rect x="123.46" y="484.22" width="5.00" height="13.60" rx="2.20" fill="#f6bd8a" stroke="#111" stroke-width="1.1" transform="rotate(-2.0 125.96 491.02)"/>
<rect x="129.32" y="469.89" width="5.00" height="14.00" rx="2.20" fill="#a9a9ab" stroke="#111" stroke-width="1.1" transform="rotate(-2.0 131.82 476.89)"/>
<rect x="129.32" y="483.89" width="5.00" height="13.60" rx="2.20" fill="#f6bd8a" stroke="#111" stroke-width="1.1" transform="rotate(-2.0 131.82 490.69)"/>
<rect x="135.18" y="469.56" width="5.00" height="14.00" rx="2.20" fill="#f8cba2" stroke="#111" stroke-width="1.1" transform="rotate(-2.0 137.68 476.56)"/>
<rect x="135.18" y="483.56" width="5.00" height="13.60" rx="2.20" fill="#f6bd8a" stroke="#111" stroke-width="1.1" transform="rotate(-2.0 137.68 490.36)"/>
<rect x="141.04" y="469.23" width="5.00" height="14.00" rx="2.20" fill="#f6bd8a" stroke="#111" stroke-width="1.1" transform="rotate(-2.0 143.54 476.23)"/>
<rect x="141.04" y="483.23" width="5.00" height="13.60" rx="2.20" fill="#a9a9ab" stroke="#111" stroke-width="1.1" transform="rotate(-2.0 143.54 490.03)"/>
<circle cx="139.8" cy="515.0" r="3.15" fill="#1a8495" stroke="#0f6878" stroke-width="0.5"/>
<ellipse cx="136.6" cy="528.3" rx="10.5" ry="10.8" fill="#fff" stroke="#111" stroke-width="1"/>
<rect x="131.00" y="522.80" width="11.20" height="11.20" rx="2.00" fill="#f5b982" stroke="#111" stroke-width="1.2" transform="rotate(38.0 136.60 528.40)"/>
<circle cx="137.9" cy="580.1" r="3.15" fill="#1a8495" stroke="#0f6878" stroke-width="0.5"/>
<circle cx="131.4" cy="578.9" r="3.15" fill="#1a8495" stroke="#0f6878" stroke-width="0.5"/>
<circle cx="126.2" cy="574.9" r="3.15" fill="#1a8495" stroke="#0f6878" stroke-width="0.5"/>
<circle cx="123.4" cy="568.9" r="3.15" fill="#1a8495" stroke="#0f6878" stroke-width="0.5"/>
<circle cx="123.8" cy="562.2" r="3.15" fill="#1a8495" stroke="#0f6878" stroke-width="0.5"/>
<circle cx="128.1" cy="557.4" r="3.15" fill="#1a8495" stroke="#0f6878" stroke-width="0.5"/>
<circle cx="134.2" cy="554.7" r="3.15" fill="#1a8495" stroke="#0f6878" stroke-width="0.5"/>
<circle cx="140.5" cy="552.5" r="3.15" fill="#1a8495" stroke="#0f6878" stroke-width="0.5"/>
<circle cx="146.8" cy="550.2" r="3.15" fill="#1a8495" stroke="#0f6878" stroke-width="0.5"/>
<circle cx="153.1" cy="547.9" r="3.15" fill="#1a8495" stroke="#0f6878" stroke-width="0.5"/>
<circle cx="159.3" cy="545.6" r="3.15" fill="#1a8495" stroke="#0f6878" stroke-width="0.5"/>
<circle cx="165.6" cy="543.4" r="3.15" fill="#1a8495" stroke="#0f6878" stroke-width="0.5"/>
<circle cx="171.9" cy="541.2" r="3.15" fill="#1a8495" stroke="#0f6878" stroke-width="0.5"/>
<circle cx="178.3" cy="539.1" r="3.15" fill="#1a8495" stroke="#0f6878" stroke-width="0.5"/>
<circle cx="184.7" cy="537.4" r="3.15" fill="#1a8495" stroke="#0f6878" stroke-width="0.5"/>
<circle cx="191.3" cy="538.0" r="3.15" fill="#1a8495" stroke="#0f6878" stroke-width="0.5"/>
<circle cx="196.3" cy="542.2" r="3.15" fill="#1a8495" stroke="#0f6878" stroke-width="0.5"/>
<circle cx="198.7" cy="548.4" r="3.15" fill="#1a8495" stroke="#0f6878" stroke-width="0.5"/>
<circle cx="197.9" cy="554.9" r="3.15" fill="#1a8495" stroke="#0f6878" stroke-width="0.5"/>
<circle cx="193.9" cy="560.2" r="3.15" fill="#1a8495" stroke="#0f6878" stroke-width="0.5"/>
<circle cx="188.2" cy="563.6" r="3.15" fill="#1a8495" stroke="#0f6878" stroke-width="0.5"/>
<path d="M129.3 560.6 L129.7 560.4 L130.1 560.2 L130.5 559.9 L131.0 559.7 L131.5 559.5 L132.1 559.2 L132.6 559.0 L133.2 558.8 L133.8 558.5 L134.5 558.3 L135.1 558.0 L135.8 557.8 L136.4 557.6 L137.1 557.3 L137.8 557.1 L138.5 556.9 L139.1 556.6 L139.8 556.4 L140.4 556.2 L141.1 556.0 L141.7 555.7 L142.3 555.5 L142.9 555.3 L143.4 555.1 L143.9 554.9 L144.5 554.7 L145.0 554.5 L145.5 554.3 L146.0 554.1 L146.5 553.9 L147.0 553.8 L147.4 553.6 L147.9 553.4 L148.4 553.2 L148.9 553.0 L149.3 552.9 L149.8 552.7 L150.3 552.5 L150.8 552.4 L151.2 552.2 L151.7 552.0 L152.2 551.8 L152.6 551.7 L153.1 551.5 L153.6 551.3 L154.0 551.2 L154.5 551.0 L155.0 550.8 L155.5 550.6 L156.0 550.4 L156.5 550.3 L156.9 550.1 L157.4 549.9 L157.9 549.7 L158.4 549.6 L158.9 549.4 L159.4 549.2 L159.9 549.0 L160.4 548.9 L160.8 548.7 L161.3 548.5 L161.8 548.3 L162.3 548.2 L162.8 548.0 L163.3 547.8 L163.8 547.6 L164.3 547.5 L164.7 547.3 L165.2 547.1 L165.7 546.9 L166.2 546.8 L166.7 546.6 L167.2 546.4 L167.7 546.3 L168.2 546.1 L168.7 545.9 L169.2 545.7 L169.7 545.5 L170.3 545.4 L170.8 545.2 L171.3 545.0 L171.8 544.8 L172.3 544.6 L172.8 544.5 L173.4 544.3 L173.9 544.1 L174.4 543.9 L174.8 543.8 L175.3 543.6 L175.8 543.4 L176.3 543.3 L176.7 543.1 L177.2 543.0 L177.6 542.9 L178.0 542.7 L178.4 542.6 L178.8 542.5 L179.2 542.4 L179.5 542.2 L179.9 542.1 L180.2 542.0 L180.5 541.9 L180.8 541.8 L181.1 541.7 L181.4 541.6 L181.7 541.5 L182.0 541.4 L182.3 541.3 L182.5 541.3 L182.8 541.2 L183.1 541.1 L183.3 541.0 L183.6 541.0 L183.8 540.9 L184.1 540.9 L184.4 540.8 L184.6 540.8 L184.9 540.8 L185.1 540.7 L185.4 540.7 L185.7 540.7 L185.9 540.7 L186.2 540.7 L186.5 540.7 L186.7 540.7 L187.0 540.7 L187.2 540.7 L187.5 540.7 L187.8 540.7 L188.0 540.7 L188.3 540.8 L188.5 540.8 L188.8 540.8 L189.0 540.9 L189.2 540.9 L189.5 541.0 L189.7 541.1 L189.9 541.1 L190.2 541.2 L190.4 541.3 L190.6 541.4 L190.8 541.5 L191.0 541.6 L191.2 541.7 L191.4 541.8 L191.6 542.0 L191.8 542.1 L191.9 542.3 L192.1 542.4 L192.3 542.6 L192.5 542.8 L192.6 543.0 L192.8 543.2 L193.0 543.4 L193.1 543.6 L193.3 543.8 L193.4 544.0 L193.6 544.2 L193.7 544.4 L193.8 544.7 L194.0 544.9 L194.1 545.1 L194.2 545.3 L194.3 545.5 L194.4 545.8 L194.5 546.0 L194.6 546.2 L194.7 546.4 L194.8 546.6 L194.9 546.8 L194.9 547.0 L195.0 547.2 L195.1 547.5 L195.1 547.7 L195.2 547.9 L195.2 548.1 L195.3 548.3 L195.3 548.6 L195.3 548.8 L195.4 549.0 L195.4 549.2 L195.4 549.4 L195.4 549.7 L195.4 549.9 L195.4 550.1 L195.4 550.3 L195.4 550.5 L195.4 550.8 L195.4 551.0 L195.4 551.2 L195.3 551.4 L195.3 551.6 L195.3 551.8 L195.2 552.0 L195.2 552.2 L195.1 552.4 L195.1 552.6 L195.0 552.8 L194.9 553.0 L194.9 553.2 L194.8 553.4 L194.7 553.6 L194.6 553.8 L194.5 554.0 L194.4 554.2 L194.3 554.4 L194.2 554.6 L194.1 554.8 L194.0 555.0 L193.9 555.2 L193.7 555.4 L193.6 555.6 L193.5 555.8 L193.3 555.9 L193.2 556.1 L193.0 556.3 L192.8 556.5 L192.7 556.6 L192.5 556.8 L192.3 557.0 L192.2 557.2 L192.0 557.3 L191.8 557.5 L191.6 557.6 L191.4 557.8 L191.2 557.9 L191.0 558.1 L190.8 558.3 L190.6 558.4 L190.3 558.6 L190.1 558.7 L189.9 558.9 L189.6 559.0 L189.4 559.2 L189.1 559.3 L188.8 559.5 L188.6 559.6 L188.3 559.8 L188.0 559.9 L187.7 560.1 L187.4 560.3 L187.1 560.4 L186.7 560.6 L186.4 560.7 L186.1 560.9 L185.7 561.0 L185.4 561.2 L185.0 561.3 L184.6 561.5 L184.2 561.7 L183.8 561.8 L183.4 562.0 L183.1 562.1 L182.6 562.3 L182.2 562.4 L181.8 562.6 L181.4 562.7 L181.0 562.9 L180.6 563.1 L180.1 563.2 L179.7 563.4 L179.3 563.6 L178.8 563.7 L178.4 563.9 L178.0 564.1 L177.5 564.2 L177.1 564.4 L176.6 564.6 L176.1 564.8 L175.6 565.0 L175.2 565.2 L174.7 565.3 L174.2 565.5 L173.7 565.7 L173.2 565.9 L172.7 566.1 L172.2 566.3 L171.7 566.5 L171.2 566.7 L170.7 566.8 L170.2 567.0 L169.7 567.2 L169.2 567.4 L168.7 567.6 L168.2 567.8 L167.7 567.9 L167.2 568.1 L166.7 568.3 L166.2 568.5 L165.7 568.6 L165.2 568.8 L164.7 569.0 L164.3 569.2 L163.8 569.3 L163.3 569.5 L162.8 569.7 L162.3 569.9 L161.8 570.0 L161.3 570.2 L160.8 570.4 L160.4 570.5 L159.9 570.7 L159.4 570.9 L158.9 571.0 L158.4 571.2 L157.9 571.3 L157.4 571.5 L156.9 571.7 L156.5 571.8 L156.0 572.0 L155.5 572.1 L155.0 572.3 L154.5 572.5 L154.0 572.6 L153.5 572.8 L153.0 572.9 L152.5 573.1 L152.0 573.3 L151.4 573.4 L150.9 573.6 L150.4 573.8 L149.9 573.9 L149.4 574.1 L148.8 574.2 L148.3 574.4 L147.8 574.6 L147.3 574.7 L146.8 574.8 L146.4 575.0 L145.9 575.1 L145.4 575.2 L145.0 575.4 L144.6 575.5 L144.2 575.6 L143.8 575.7 L143.4 575.8 L143.0 575.9 L142.7 576.0 L142.4 576.1 L142.1 576.1 L141.8 576.2 L141.5 576.3 L141.3 576.3 L141.0 576.4 L140.8 576.4 L140.5 576.5 L140.3 576.5 L140.1 576.6 L139.9 576.6 L139.7 576.6 L139.5 576.6 L139.2 576.7 L139.0 576.7 L138.8 576.7 L138.6 576.7 L138.4 576.7 L138.2 576.7 L138.0 576.7 L137.7 576.7 L137.5 576.7 L137.3 576.7 L137.0 576.7 L136.8 576.7 L136.5 576.6 L136.3 576.6 L136.0 576.6 L135.7 576.6 L135.5 576.5 L135.2 576.5 L135.0 576.4 L134.7 576.4 L134.5 576.3 L134.2 576.3 L134.0 576.2 L133.7 576.1 L133.5 576.1 L133.3 576.0 L133.0 575.9 L132.8 575.8 L132.6 575.7 L132.3 575.6 L132.1 575.5 L131.9 575.4 L131.7 575.3 L131.5 575.2 L131.3 575.0 L131.1 574.9 L130.9 574.8 L130.7 574.6 L130.5 574.4 L130.3 574.3 L130.1 574.1 L129.9 573.9 L129.7 573.7 L129.5 573.5 L129.3 573.3 L129.2 573.1 L129.0 572.9 L128.8 572.7 L128.7 572.5 L128.5 572.3 L128.4 572.1 L128.2 571.9 L128.1 571.7 L127.9 571.5 L127.8 571.3 L127.7 571.1 L127.6 570.9 L127.5 570.7 L127.4 570.5 L127.3 570.3 L127.2 570.1 L127.2 569.8 L127.1 569.6 L127.0 569.4 L127.0 569.2 L126.9 569.0 L126.9 568.7 L126.8 568.5 L126.8 568.3 L126.8 568.1 L126.7 567.8 L126.7 567.6 L126.7 567.4 L126.7 567.2 L126.7 566.9 L126.7 566.7 L126.7 566.5 L126.7 566.3 L126.7 566.0 L126.8 565.8 L126.8 565.6 L126.8 565.4 L126.9 565.2 L126.9 565.0 L126.9 564.8 L126.9 564.5 L126.9 564.3 L126.9 564.1 L127.0 563.9 L127.0 563.7 L127.0 563.5 L127.1 563.3 L127.1 563.1 L127.2 562.9 L127.3 562.7 L127.4 562.5 L127.5 562.3 L127.6 562.1 L127.8 561.9 L128.0 561.7 L128.2 561.5 L128.4 561.2 L128.7 561.0 L129.0 560.8 Z" fill="#fff" stroke="#111" stroke-width="1.05" stroke-linejoin="round"/>
<rect x="133.25" y="561.60" width="5.10" height="12.80" rx="2.40" fill="#fce3cd" stroke="#111" stroke-width="0.85" transform="rotate(-17.0 135.80 568.00)"/>
<rect x="138.85" y="559.61" width="5.10" height="12.80" rx="2.40" fill="#f8cba2" stroke="#111" stroke-width="0.85" transform="rotate(-17.0 141.40 566.01)"/>
<rect x="144.45" y="557.62" width="5.10" height="12.80" rx="2.40" fill="#f6bd8a" stroke="#111" stroke-width="0.85" transform="rotate(-17.0 147.00 564.02)"/>
<rect x="150.05" y="555.63" width="5.10" height="12.80" rx="2.40" fill="#f8cba2" stroke="#111" stroke-width="0.85" transform="rotate(-17.0 152.60 562.03)"/>
<rect x="155.65" y="553.64" width="5.10" height="12.80" rx="2.40" fill="#f8cba2" stroke="#111" stroke-width="0.85" transform="rotate(-17.0 158.20 560.04)"/>
<rect x="161.25" y="551.66" width="5.10" height="12.80" rx="2.40" fill="#fce3cd" stroke="#111" stroke-width="0.85" transform="rotate(-17.0 163.80 558.06)"/>
<rect x="166.85" y="549.67" width="5.10" height="12.80" rx="2.40" fill="#f8cba2" stroke="#111" stroke-width="0.85" transform="rotate(-17.0 169.40 556.07)"/>
<rect x="172.45" y="547.68" width="5.10" height="12.80" rx="2.40" fill="#f6bd8a" stroke="#111" stroke-width="0.85" transform="rotate(-17.0 175.00 554.08)"/>
<rect x="178.05" y="545.69" width="5.10" height="12.80" rx="2.40" fill="#f6bd8a" stroke="#111" stroke-width="0.85" transform="rotate(-17.0 180.60 552.09)"/>
<rect x="183.65" y="543.70" width="5.10" height="12.80" rx="2.40" fill="#a9a9ab" stroke="#111" stroke-width="0.85" transform="rotate(-17.0 186.20 550.10)"/>
<circle cx="167.1" cy="588.0" r="3.15" fill="#1a8495" stroke="#0f6878" stroke-width="0.5"/>
<circle cx="173.6" cy="584.1" r="3.15" fill="#1a8495" stroke="#0f6878" stroke-width="0.5"/>
<circle cx="180.7" cy="581.9" r="3.15" fill="#1a8495" stroke="#0f6878" stroke-width="0.5"/>
<circle cx="187.2" cy="581.2" r="3.15" fill="#1a8495" stroke="#0f6878" stroke-width="0.5"/>
<circle cx="193.8" cy="580.8" r="3.15" fill="#1a8495" stroke="#0f6878" stroke-width="0.5"/>
<circle cx="200.8" cy="580.8" r="3.15" fill="#1a8495" stroke="#0f6878" stroke-width="0.5"/>
<circle cx="207.4" cy="581.5" r="3.15" fill="#1a8495" stroke="#0f6878" stroke-width="0.5"/>
<circle cx="213.9" cy="582.6" r="3.15" fill="#1a8495" stroke="#0f6878" stroke-width="0.5"/>
<circle cx="220.1" cy="585.8" r="3.15" fill="#1a8495" stroke="#0f6878" stroke-width="0.5"/>
<path d="M208.8 584.5 L210.8 584.6 L212.8 585.1 L214.7 585.9 L216.4 587.0 L218.0 588.3 L219.3 589.9 L220.4 591.6 L221.2 593.5 L221.7 595.5 L221.8 597.6 L221.8 597.6 L221.8 597.6 L221.8 597.6 L221.8 597.6 L221.8 597.6 L221.8 597.6 L221.8 597.6 L221.8 597.6 L221.8 597.6 L221.8 597.6 L221.8 597.6 L221.8 597.6 L221.7 599.7 L221.2 601.7 L220.4 603.6 L219.3 605.3 L218.0 606.9 L216.4 608.2 L214.7 609.3 L212.8 610.1 L210.8 610.6 L208.8 610.8 L206.4 610.8 L204.0 610.8 L201.6 610.8 L199.2 610.8 L196.9 610.8 L194.5 610.8 L192.1 610.8 L189.8 610.8 L187.4 610.8 L185.0 610.8 L182.6 610.8 L180.2 610.8 L178.2 610.6 L176.2 610.1 L174.3 609.3 L172.6 608.2 L171.0 606.9 L169.7 605.3 L168.6 603.6 L167.8 601.7 L167.3 599.7 L167.2 597.6 L167.2 597.6 L167.2 597.6 L167.2 597.6 L167.2 597.6 L167.2 597.6 L167.2 597.6 L167.2 597.6 L167.2 597.6 L167.2 597.6 L167.2 597.6 L167.2 597.6 L167.2 597.6 L167.3 595.5 L167.8 593.5 L168.6 591.6 L169.7 589.9 L171.0 588.3 L172.6 587.0 L174.3 585.9 L176.2 585.1 L178.2 584.6 L180.2 584.5 L182.6 584.5 L185.0 584.5 L187.4 584.5 L189.8 584.5 L192.1 584.5 L194.5 584.5 L196.9 584.5 L199.2 584.5 L201.6 584.5 L204.0 584.5 L206.4 584.5 Z" fill="#fff" stroke="#111" stroke-width="1.2" stroke-linejoin="round"/>
<rect x="171.50" y="591.70" width="11.00" height="13.20" rx="2.20" fill="#f8cda4" stroke="#111" stroke-width="1.2"/>
<rect x="182.55" y="591.70" width="11.00" height="13.20" rx="2.20" fill="#f9d0a9" stroke="#111" stroke-width="1.2"/>
<rect x="193.60" y="591.70" width="11.00" height="13.20" rx="2.20" fill="#f9d3ae" stroke="#111" stroke-width="1.2"/>
<rect x="204.65" y="591.70" width="11.00" height="13.20" rx="2.20" fill="#fbdcc0" stroke="#111" stroke-width="1.2"/>
<circle cx="31.8" cy="631.1" r="3.15" fill="#1a8495" stroke="#0f6878" stroke-width="0.5"/>
<circle cx="31.3" cy="624.6" r="3.15" fill="#1a8495" stroke="#0f6878" stroke-width="0.5"/>
<circle cx="31.0" cy="618.0" r="3.15" fill="#1a8495" stroke="#0f6878" stroke-width="0.5"/>
<circle cx="30.8" cy="611.4" r="3.15" fill="#1a8495" stroke="#0f6878" stroke-width="0.5"/>
<circle cx="30.8" cy="604.7" r="3.15" fill="#1a8495" stroke="#0f6878" stroke-width="0.5"/>
<circle cx="30.9" cy="598.1" r="3.15" fill="#1a8495" stroke="#0f6878" stroke-width="0.5"/>
<circle cx="31.2" cy="591.5" r="3.15" fill="#1a8495" stroke="#0f6878" stroke-width="0.5"/>
<circle cx="32.0" cy="585.0" r="3.15" fill="#1a8495" stroke="#0f6878" stroke-width="0.5"/>
<circle cx="33.6" cy="578.6" r="3.15" fill="#1a8495" stroke="#0f6878" stroke-width="0.5"/>
<circle cx="37.2" cy="573.1" r="3.15" fill="#1a8495" stroke="#0f6878" stroke-width="0.5"/>
<circle cx="43.2" cy="570.8" r="3.15" fill="#1a8495" stroke="#0f6878" stroke-width="0.5"/>
<circle cx="49.8" cy="571.5" r="3.15" fill="#1a8495" stroke="#0f6878" stroke-width="0.5"/>
<circle cx="56.3" cy="572.3" r="3.15" fill="#1a8495" stroke="#0f6878" stroke-width="0.5"/>
<circle cx="62.9" cy="572.6" r="3.15" fill="#1a8495" stroke="#0f6878" stroke-width="0.5"/>
<circle cx="69.5" cy="572.8" r="3.15" fill="#1a8495" stroke="#0f6878" stroke-width="0.5"/>
<circle cx="76.1" cy="572.4" r="3.15" fill="#1a8495" stroke="#0f6878" stroke-width="0.5"/>
<circle cx="82.7" cy="571.6" r="3.15" fill="#1a8495" stroke="#0f6878" stroke-width="0.5"/>
<circle cx="89.2" cy="570.6" r="3.15" fill="#1a8495" stroke="#0f6878" stroke-width="0.5"/>
<circle cx="95.7" cy="569.5" r="3.15" fill="#1a8495" stroke="#0f6878" stroke-width="0.5"/>
<circle cx="102.3" cy="570.3" r="3.15" fill="#1a8495" stroke="#0f6878" stroke-width="0.5"/>
<circle cx="107.5" cy="574.1" r="3.15" fill="#1a8495" stroke="#0f6878" stroke-width="0.5"/>
<circle cx="110.0" cy="580.2" r="3.15" fill="#1a8495" stroke="#0f6878" stroke-width="0.5"/>
<circle cx="111.2" cy="586.7" r="3.15" fill="#1a8495" stroke="#0f6878" stroke-width="0.5"/>
<circle cx="112.0" cy="593.3" r="3.15" fill="#1a8495" stroke="#0f6878" stroke-width="0.5"/>
<circle cx="112.6" cy="599.8" r="3.15" fill="#1a8495" stroke="#0f6878" stroke-width="0.5"/>
<circle cx="113.1" cy="606.4" r="3.15" fill="#1a8495" stroke="#0f6878" stroke-width="0.5"/>
<circle cx="113.4" cy="613.0" r="3.15" fill="#1a8495" stroke="#0f6878" stroke-width="0.5"/>
<circle cx="113.3" cy="619.6" r="3.15" fill="#1a8495" stroke="#0f6878" stroke-width="0.5"/>
<circle cx="112.6" cy="626.2" r="3.15" fill="#1a8495" stroke="#0f6878" stroke-width="0.5"/>
<path d="M40.7 574.8 L41.1 574.6 L41.6 574.5 L42.0 574.4 L42.5 574.3 L43.1 574.2 L43.6 574.2 L44.2 574.2 L44.7 574.2 L45.3 574.3 L45.9 574.3 L46.5 574.4 L47.2 574.5 L47.8 574.6 L48.4 574.7 L49.1 574.8 L49.8 574.9 L50.4 575.0 L51.1 575.1 L51.7 575.3 L52.4 575.3 L53.1 575.4 L53.7 575.5 L54.4 575.6 L55.0 575.6 L55.6 575.6 L56.3 575.7 L57.0 575.7 L57.6 575.7 L58.3 575.8 L59.0 575.8 L59.7 575.9 L60.3 575.9 L61.0 575.9 L61.7 576.0 L62.4 576.0 L63.1 576.1 L63.8 576.1 L64.5 576.1 L65.2 576.1 L65.9 576.2 L66.6 576.2 L67.3 576.2 L68.0 576.2 L68.7 576.2 L69.3 576.2 L70.0 576.2 L70.6 576.2 L71.3 576.2 L71.9 576.2 L72.6 576.1 L73.2 576.1 L73.9 576.1 L74.5 576.0 L75.2 576.0 L75.8 575.9 L76.4 575.8 L77.1 575.8 L77.7 575.7 L78.3 575.6 L78.9 575.5 L79.6 575.5 L80.2 575.4 L80.8 575.3 L81.4 575.2 L82.0 575.1 L82.6 575.1 L83.2 575.0 L83.7 574.9 L84.3 574.8 L84.9 574.7 L85.4 574.7 L86.0 574.6 L86.5 574.5 L87.1 574.4 L87.6 574.4 L88.2 574.3 L88.7 574.2 L89.2 574.1 L89.7 574.0 L90.2 573.8 L90.7 573.7 L91.2 573.6 L91.7 573.5 L92.2 573.4 L92.7 573.3 L93.2 573.2 L93.7 573.2 L94.1 573.1 L94.6 573.0 L95.0 573.0 L95.5 572.9 L95.9 572.9 L96.3 572.9 L96.8 572.9 L97.2 573.0 L97.6 573.0 L98.0 573.1 L98.4 573.1 L98.8 573.2 L99.2 573.2 L99.6 573.3 L99.9 573.3 L100.3 573.4 L100.7 573.4 L101.0 573.5 L101.4 573.6 L101.7 573.7 L102.1 573.8 L102.4 574.0 L102.7 574.1 L103.0 574.3 L103.3 574.5 L103.6 574.8 L103.9 575.0 L104.2 575.3 L104.5 575.7 L104.7 576.1 L105.0 576.5 L105.3 576.9 L105.5 577.4 L105.7 577.9 L106.0 578.5 L106.2 579.2 L106.4 579.8 L106.6 580.6 L106.7 581.3 L106.9 582.1 L107.1 582.9 L107.2 583.8 L107.4 584.7 L107.5 585.6 L107.7 586.5 L107.8 587.4 L107.9 588.3 L108.1 589.3 L108.2 590.2 L108.3 591.2 L108.4 592.1 L108.5 593.1 L108.6 594.0 L108.7 594.9 L108.8 595.8 L108.9 596.7 L109.0 597.6 L109.1 598.5 L109.2 599.3 L109.3 600.2 L109.3 601.1 L109.4 602.0 L109.5 602.9 L109.6 603.8 L109.6 604.7 L109.7 605.6 L109.7 606.5 L109.8 607.4 L109.8 608.3 L109.9 609.2 L109.9 610.1 L109.9 610.9 L110.0 611.8 L110.0 612.7 L110.0 613.6 L110.0 614.4 L110.0 615.3 L110.0 616.1 L110.0 617.0 L109.9 617.8 L109.9 618.6 L109.9 619.4 L109.8 620.2 L109.7 621.0 L109.7 621.8 L109.6 622.6 L109.5 623.4 L109.4 624.2 L109.3 625.0 L109.2 625.7 L109.1 626.5 L109.0 627.3 L108.9 628.0 L108.7 628.7 L108.6 629.5 L108.5 630.2 L108.4 630.9 L108.2 631.6 L108.1 632.3 L107.9 633.0 L107.8 633.6 L107.6 634.3 L107.5 634.9 L107.3 635.5 L107.2 636.1 L107.1 636.7 L106.9 637.2 L106.8 637.8 L106.7 638.3 L106.6 638.8 L106.5 639.4 L106.4 639.9 L106.2 640.3 L106.1 640.8 L106.0 641.3 L105.9 641.7 L105.8 642.2 L105.6 642.6 L105.5 643.0 L105.3 643.4 L105.1 643.8 L104.9 644.2 L104.7 644.6 L104.5 644.9 L104.2 645.3 L103.9 645.6 L103.6 646.0 L103.3 646.3 L102.9 646.6 L102.5 646.9 L102.1 647.2 L101.7 647.5 L101.4 647.7 L101.0 648.0 L100.6 648.2 L100.1 648.5 L99.7 648.7 L99.2 648.9 L98.8 649.1 L98.3 649.3 L97.8 649.5 L97.2 649.6 L96.7 649.8 L96.0 649.9 L95.4 650.1 L94.7 650.2 L94.0 650.4 L93.3 650.5 L92.5 650.6 L91.6 650.7 L90.7 650.8 L89.8 650.9 L88.8 651.0 L87.7 651.1 L86.6 651.2 L85.3 651.2 L83.9 651.3 L82.5 651.4 L81.0 651.4 L79.5 651.5 L77.9 651.5 L76.3 651.5 L74.7 651.5 L73.0 651.5 L71.3 651.6 L69.7 651.5 L68.0 651.5 L66.4 651.5 L64.8 651.5 L63.2 651.5 L61.6 651.4 L60.1 651.4 L58.7 651.3 L57.4 651.2 L56.1 651.2 L54.9 651.1 L53.8 651.0 L52.8 650.9 L51.8 650.8 L50.9 650.7 L50.0 650.6 L49.2 650.5 L48.4 650.4 L47.6 650.3 L46.9 650.2 L46.2 650.1 L45.6 650.0 L45.0 649.8 L44.4 649.7 L43.8 649.5 L43.3 649.3 L42.8 649.1 L42.3 648.9 L41.8 648.7 L41.4 648.5 L40.9 648.2 L40.5 647.9 L40.1 647.6 L39.7 647.3 L39.3 647.0 L38.9 646.6 L38.5 646.2 L38.2 645.8 L37.9 645.4 L37.6 645.0 L37.4 644.5 L37.2 644.1 L37.0 643.6 L36.8 643.1 L36.7 642.6 L36.5 642.1 L36.4 641.5 L36.3 641.0 L36.2 640.4 L36.1 639.8 L36.0 639.2 L36.0 638.5 L35.9 637.9 L35.8 637.2 L35.8 636.5 L35.7 635.8 L35.6 635.0 L35.6 634.2 L35.5 633.4 L35.4 632.6 L35.3 631.7 L35.2 630.8 L35.1 629.9 L35.0 628.9 L35.0 627.8 L34.9 626.8 L34.8 625.7 L34.7 624.5 L34.7 623.4 L34.6 622.2 L34.6 621.1 L34.5 619.9 L34.5 618.7 L34.4 617.5 L34.4 616.3 L34.3 615.1 L34.3 614.0 L34.3 612.8 L34.3 611.6 L34.2 610.5 L34.2 609.4 L34.2 608.3 L34.2 607.3 L34.2 606.3 L34.2 605.3 L34.2 604.3 L34.2 603.3 L34.2 602.4 L34.2 601.4 L34.2 600.4 L34.3 599.5 L34.3 598.5 L34.3 597.6 L34.3 596.6 L34.4 595.7 L34.4 594.8 L34.4 593.9 L34.5 593.0 L34.5 592.2 L34.6 591.3 L34.7 590.5 L34.8 589.7 L34.8 588.9 L34.9 588.1 L35.0 587.4 L35.1 586.7 L35.3 586.0 L35.4 585.3 L35.5 584.7 L35.7 584.0 L35.8 583.4 L35.9 582.8 L36.1 582.2 L36.2 581.7 L36.4 581.1 L36.5 580.6 L36.7 580.1 L36.9 579.6 L37.0 579.1 L37.2 578.7 L37.4 578.3 L37.6 577.8 L37.9 577.4 L38.1 577.1 L38.4 576.7 L38.6 576.4 L38.9 576.1 L39.2 575.8 L39.6 575.5 L39.9 575.2 L40.3 575.0 Z" fill="#fff" stroke="#111" stroke-width="1.05" stroke-linejoin="round"/>
<rect x="41.65" y="578.70" width="4.90" height="13.20" rx="2.20" fill="#f8cba2" stroke="#111" stroke-width="1.1"/>
<rect x="47.57" y="578.70" width="4.90" height="13.20" rx="2.20" fill="#f8cba2" stroke="#111" stroke-width="1.1"/>
<rect x="53.49" y="578.70" width="4.90" height="13.20" rx="2.20" fill="#f8cba2" stroke="#111" stroke-width="1.1"/>
<rect x="59.41" y="578.70" width="4.90" height="13.20" rx="2.20" fill="#f8cba2" stroke="#111" stroke-width="1.1"/>
<rect x="65.33" y="578.70" width="4.90" height="13.20" rx="2.20" fill="#f8cba2" stroke="#111" stroke-width="1.1"/>
<rect x="71.25" y="578.70" width="4.90" height="13.20" rx="2.20" fill="#f8cba2" stroke="#111" stroke-width="1.1"/>
<rect x="77.17" y="578.70" width="4.90" height="13.20" rx="2.20" fill="#f8cba2" stroke="#111" stroke-width="1.1"/>
<rect x="83.09" y="578.70" width="4.90" height="13.20" rx="2.20" fill="#f8cba2" stroke="#111" stroke-width="1.1"/>
<rect x="89.01" y="578.70" width="4.90" height="13.20" rx="2.20" fill="#a9a9ab" stroke="#111" stroke-width="1.1"/>
<rect x="94.93" y="578.70" width="4.90" height="13.20" rx="2.20" fill="#fce3cd" stroke="#111" stroke-width="1.1"/>
<rect x="41.65" y="592.40" width="4.90" height="13.20" rx="2.20" fill="#a9a9ab" stroke="#111" stroke-width="1.1"/>
<rect x="47.57" y="592.40" width="4.90" height="13.20" rx="2.20" fill="#f8cba2" stroke="#111" stroke-width="1.1"/>
<rect x="53.49" y="592.40" width="4.90" height="13.20" rx="2.20" fill="#fce3cd" stroke="#111" stroke-width="1.1"/>
<rect x="59.41" y="592.40" width="4.90" height="13.20" rx="2.20" fill="#f8cba2" stroke="#111" stroke-width="1.1"/>
<rect x="65.33" y="592.40" width="4.90" height="13.20" rx="2.20" fill="#f8cba2" stroke="#111" stroke-width="1.1"/>
<rect x="71.25" y="592.40" width="4.90" height="13.20" rx="2.20" fill="#f8cba2" stroke="#111" stroke-width="1.1"/>
<rect x="77.17" y="592.40" width="4.90" height="13.20" rx="2.20" fill="#f8cba2" stroke="#111" stroke-width="1.1"/>
<rect x="83.09" y="592.40" width="4.90" height="13.20" rx="2.20" fill="#f8cba2" stroke="#111" stroke-width="1.1"/>
<rect x="89.01" y="592.40" width="4.90" height="13.20" rx="2.20" fill="#f2a965" stroke="#111" stroke-width="1.1"/>
<rect x="94.93" y="592.40" width="4.90" height="13.20" rx="2.20" fill="#f8cba2" stroke="#111" stroke-width="1.1"/>
<rect x="41.65" y="606.20" width="4.90" height="13.20" rx="2.20" fill="#a9a9ab" stroke="#111" stroke-width="1.1"/>
<rect x="47.57" y="606.20" width="4.90" height="13.20" rx="2.20" fill="#f8cba2" stroke="#111" stroke-width="1.1"/>
<rect x="53.49" y="606.20" width="4.90" height="13.20" rx="2.20" fill="#f8cba2" stroke="#111" stroke-width="1.1"/>
<rect x="59.41" y="606.20" width="4.90" height="13.20" rx="2.20" fill="#f8cba2" stroke="#111" stroke-width="1.1"/>
<rect x="65.33" y="606.20" width="4.90" height="13.20" rx="2.20" fill="#fce3cd" stroke="#111" stroke-width="1.1"/>
<rect x="71.25" y="606.20" width="4.90" height="13.20" rx="2.20" fill="#f8cba2" stroke="#111" stroke-width="1.1"/>
<rect x="77.17" y="606.20" width="4.90" height="13.20" rx="2.20" fill="#f8cba2" stroke="#111" stroke-width="1.1"/>
<rect x="83.09" y="606.20" width="4.90" height="13.20" rx="2.20" fill="#f8cba2" stroke="#111" stroke-width="1.1"/>
<rect x="89.01" y="606.20" width="4.90" height="13.20" rx="2.20" fill="#f8cba2" stroke="#111" stroke-width="1.1"/>
<rect x="94.93" y="606.20" width="4.90" height="13.20" rx="2.20" fill="#f8cba2" stroke="#111" stroke-width="1.1"/>
<rect x="41.65" y="619.80" width="4.90" height="13.20" rx="2.20" fill="#f8cba2" stroke="#111" stroke-width="1.1"/>
<rect x="47.57" y="619.80" width="4.90" height="13.20" rx="2.20" fill="#f8cba2" stroke="#111" stroke-width="1.1"/>
<rect x="53.49" y="619.80" width="4.90" height="13.20" rx="2.20" fill="#f8cba2" stroke="#111" stroke-width="1.1"/>
<rect x="59.41" y="619.80" width="4.90" height="13.20" rx="2.20" fill="#f8cba2" stroke="#111" stroke-width="1.1"/>
<rect x="65.33" y="619.80" width="4.90" height="13.20" rx="2.20" fill="#f8cba2" stroke="#111" stroke-width="1.1"/>
<rect x="71.25" y="619.80" width="4.90" height="13.20" rx="2.20" fill="#fce3cd" stroke="#111" stroke-width="1.1"/>
<rect x="77.17" y="619.80" width="4.90" height="13.20" rx="2.20" fill="#f8cba2" stroke="#111" stroke-width="1.1"/>
<rect x="83.09" y="619.80" width="4.90" height="13.20" rx="2.20" fill="#f8cba2" stroke="#111" stroke-width="1.1"/>
<rect x="89.01" y="619.80" width="4.90" height="13.20" rx="2.20" fill="#f8cba2" stroke="#111" stroke-width="1.1"/>
<rect x="94.93" y="619.80" width="4.90" height="13.20" rx="2.20" fill="#f8cba2" stroke="#111" stroke-width="1.1"/>
<rect x="54.05" y="633.90" width="4.90" height="13.00" rx="2.20" fill="#f8cba2" stroke="#111" stroke-width="1.1"/>
<rect x="59.97" y="633.90" width="4.90" height="13.00" rx="2.20" fill="#f8cba2" stroke="#111" stroke-width="1.1"/>
<rect x="65.89" y="633.90" width="4.90" height="13.00" rx="2.20" fill="#f8cba2" stroke="#111" stroke-width="1.1"/>
<rect x="71.81" y="633.90" width="4.90" height="13.00" rx="2.20" fill="#a9a9ab" stroke="#111" stroke-width="1.1"/>
<rect x="77.73" y="633.90" width="4.90" height="13.00" rx="2.20" fill="#fce3cd" stroke="#111" stroke-width="1.1"/>
<rect x="83.65" y="633.90" width="4.90" height="13.00" rx="2.20" fill="#f8cba2" stroke="#111" stroke-width="1.1"/>
<circle cx="108.1" cy="641.4" r="3.2" fill="#e5577f" stroke="#cf4a73" stroke-width="0.6"/>
<circle cx="222.1" cy="434.6" r="3.15" fill="#1a8495" stroke="#0f6878" stroke-width="0.5"/>
<circle cx="220.3" cy="427.4" r="3.15" fill="#1a8495" stroke="#0f6878" stroke-width="0.5"/>
<circle cx="221.4" cy="420.8" r="3.15" fill="#1a8495" stroke="#0f6878" stroke-width="0.5"/>
<circle cx="225.1" cy="415.8" r="3.15" fill="#1a8495" stroke="#0f6878" stroke-width="0.5"/>
<circle cx="230.8" cy="412.1" r="3.15" fill="#1a8495" stroke="#0f6878" stroke-width="0.5"/>
<circle cx="237.2" cy="409.9" r="3.15" fill="#1a8495" stroke="#0f6878" stroke-width="0.5"/>
<circle cx="244.0" cy="409.2" r="3.15" fill="#1a8495" stroke="#0f6878" stroke-width="0.5"/>
<circle cx="250.5" cy="410.3" r="3.15" fill="#1a8495" stroke="#0f6878" stroke-width="0.5"/>
<circle cx="256.5" cy="413.2" r="3.15" fill="#1a8495" stroke="#0f6878" stroke-width="0.5"/>
<circle cx="261.3" cy="418.0" r="3.15" fill="#1a8495" stroke="#0f6878" stroke-width="0.5"/>
<circle cx="263.2" cy="424.1" r="3.15" fill="#1a8495" stroke="#0f6878" stroke-width="0.5"/>
<circle cx="264.1" cy="430.7" r="3.15" fill="#1a8495" stroke="#0f6878" stroke-width="0.5"/>
<path d="M250.0 413.6 L251.9 413.8 L253.8 414.2 L255.6 415.0 L257.2 416.0 L258.7 417.2 L260.0 418.7 L261.0 420.4 L261.7 422.2 L262.2 424.1 L262.4 426.0 L262.4 426.0 L262.4 426.0 L262.4 426.0 L262.4 426.0 L262.4 426.0 L262.4 426.0 L262.4 426.0 L262.4 426.0 L262.4 426.0 L262.4 426.0 L262.4 426.0 L262.4 426.0 L262.2 427.9 L261.7 429.8 L261.0 431.6 L260.0 433.3 L258.7 434.8 L257.2 436.0 L255.6 437.0 L253.8 437.8 L251.9 438.2 L250.0 438.4 L248.9 438.4 L247.8 438.4 L246.7 438.4 L245.7 438.4 L244.6 438.4 L243.5 438.4 L242.4 438.4 L241.4 438.4 L240.3 438.4 L239.2 438.4 L238.1 438.4 L237.1 438.4 L235.1 438.2 L233.2 437.8 L231.4 437.0 L229.8 436.0 L228.3 434.8 L227.0 433.3 L226.0 431.6 L225.3 429.8 L224.8 427.9 L224.7 426.0 L224.7 426.0 L224.7 426.0 L224.7 426.0 L224.7 426.0 L224.7 426.0 L224.7 426.0 L224.7 426.0 L224.7 426.0 L224.7 426.0 L224.7 426.0 L224.7 426.0 L224.7 426.0 L224.8 424.1 L225.3 422.2 L226.0 420.4 L227.0 418.7 L228.3 417.2 L229.8 416.0 L231.4 415.0 L233.2 414.2 L235.1 413.8 L237.1 413.6 L238.1 413.6 L239.2 413.6 L240.3 413.6 L241.4 413.6 L242.4 413.6 L243.5 413.6 L244.6 413.6 L245.7 413.6 L246.7 413.6 L247.8 413.6 L248.9 413.6 Z" fill="#fff" stroke="#111" stroke-width="1.3" stroke-linejoin="round"/>
<rect x="229.50" y="418.60" width="25.40" height="14.70" rx="2.40" fill="#f8c9a0" stroke="#111" stroke-width="1.3"/>
<circle cx="353.0" cy="406.2" r="3.15" fill="#1a8495" stroke="#0f6878" stroke-width="0.5"/>
<circle cx="359.5" cy="403.3" r="3.15" fill="#1a8495" stroke="#0f6878" stroke-width="0.5"/>
<circle cx="366.1" cy="401.8" r="3.15" fill="#1a8495" stroke="#0f6878" stroke-width="0.5"/>
<circle cx="372.7" cy="401.8" r="3.15" fill="#1a8495" stroke="#0f6878" stroke-width="0.5"/>
<circle cx="379.4" cy="403.3" r="3.15" fill="#1a8495" stroke="#0f6878" stroke-width="0.5"/>
<circle cx="385.8" cy="405.1" r="3.15" fill="#1a8495" stroke="#0f6878" stroke-width="0.5"/>
<path d="M377.2 406.1 L379.1 406.2 L380.9 406.7 L382.7 407.4 L384.3 408.4 L385.8 409.6 L387.0 411.1 L388.0 412.7 L388.7 414.5 L389.2 416.3 L389.3 418.2 L389.3 418.2 L389.3 418.2 L389.3 418.2 L389.3 418.2 L389.3 418.2 L389.3 418.2 L389.3 418.2 L389.3 418.2 L389.3 418.2 L389.3 418.2 L389.3 418.2 L389.3 418.2 L389.2 420.1 L388.7 421.9 L388.0 423.7 L387.0 425.3 L385.8 426.8 L384.3 428.0 L382.7 429.0 L380.9 429.7 L379.1 430.2 L377.2 430.3 L376.1 430.3 L375.0 430.3 L373.9 430.3 L372.9 430.3 L371.8 430.3 L370.7 430.3 L369.6 430.3 L368.5 430.3 L367.4 430.3 L366.4 430.3 L365.3 430.3 L364.2 430.3 L362.3 430.2 L360.5 429.7 L358.7 429.0 L357.1 428.0 L355.6 426.8 L354.4 425.3 L353.4 423.7 L352.7 421.9 L352.2 420.1 L352.1 418.2 L352.1 418.2 L352.1 418.2 L352.1 418.2 L352.1 418.2 L352.1 418.2 L352.1 418.2 L352.1 418.2 L352.1 418.2 L352.1 418.2 L352.1 418.2 L352.1 418.2 L352.1 418.2 L352.2 416.3 L352.7 414.5 L353.4 412.7 L354.4 411.1 L355.6 409.6 L357.1 408.4 L358.7 407.4 L360.5 406.7 L362.3 406.2 L364.2 406.1 L365.3 406.1 L366.4 406.1 L367.4 406.1 L368.5 406.1 L369.6 406.1 L370.7 406.1 L371.8 406.1 L372.9 406.1 L373.9 406.1 L375.0 406.1 L376.1 406.1 Z" fill="#fff" stroke="#111" stroke-width="1.3" stroke-linejoin="round"/>
<rect x="358.00" y="409.90" width="25.60" height="16.00" rx="2.40" fill="#f8c9a0" stroke="#111" stroke-width="1.3"/>
<circle cx="457.6" cy="415.8" r="3.15" fill="#1a8495" stroke="#0f6878" stroke-width="0.5"/>
<circle cx="463.5" cy="412.1" r="3.15" fill="#1a8495" stroke="#0f6878" stroke-width="0.5"/>
<circle cx="470.0" cy="409.9" r="3.15" fill="#1a8495" stroke="#0f6878" stroke-width="0.5"/>
<circle cx="476.6" cy="409.2" r="3.15" fill="#1a8495" stroke="#0f6878" stroke-width="0.5"/>
<circle cx="483.2" cy="410.3" r="3.15" fill="#1a8495" stroke="#0f6878" stroke-width="0.5"/>
<circle cx="489.7" cy="413.0" r="3.15" fill="#1a8495" stroke="#0f6878" stroke-width="0.5"/>
<circle cx="495.9" cy="416.2" r="3.15" fill="#1a8495" stroke="#0f6878" stroke-width="0.5"/>
<path d="M483.0 413.6 L484.9 413.8 L486.7 414.2 L488.5 415.0 L490.2 416.0 L491.6 417.2 L492.9 418.7 L493.9 420.3 L494.6 422.1 L495.0 424.0 L495.2 425.9 L495.2 425.9 L495.2 425.9 L495.2 425.9 L495.2 425.9 L495.2 425.9 L495.2 425.9 L495.2 425.9 L495.2 425.9 L495.2 425.9 L495.2 425.9 L495.2 425.9 L495.2 425.9 L495.0 427.8 L494.6 429.7 L493.9 431.5 L492.9 433.1 L491.6 434.6 L490.2 435.8 L488.5 436.8 L486.7 437.6 L484.9 438.0 L483.0 438.1 L481.9 438.1 L480.8 438.1 L479.8 438.1 L478.7 438.1 L477.7 438.1 L476.6 438.1 L475.5 438.1 L474.5 438.1 L473.4 438.1 L472.4 438.1 L471.3 438.1 L470.2 438.1 L468.3 438.0 L466.5 437.6 L464.7 436.8 L463.0 435.8 L461.6 434.6 L460.3 433.1 L459.3 431.5 L458.6 429.7 L458.2 427.8 L458.0 425.9 L458.0 425.9 L458.0 425.9 L458.0 425.9 L458.0 425.9 L458.0 425.9 L458.0 425.9 L458.0 425.9 L458.0 425.9 L458.0 425.9 L458.0 425.9 L458.0 425.9 L458.0 425.9 L458.2 424.0 L458.6 422.1 L459.3 420.3 L460.3 418.7 L461.6 417.2 L463.0 416.0 L464.7 415.0 L466.5 414.2 L468.3 413.8 L470.2 413.6 L471.3 413.6 L472.4 413.6 L473.4 413.6 L474.5 413.6 L475.5 413.6 L476.6 413.6 L477.7 413.6 L478.7 413.6 L479.8 413.6 L480.8 413.6 L481.9 413.6 Z" fill="#fff" stroke="#111" stroke-width="1.3" stroke-linejoin="round"/>
<rect x="463.90" y="418.00" width="25.40" height="14.70" rx="2.40" fill="#f8c9a0" stroke="#111" stroke-width="1.3"/>
<circle cx="245.5" cy="499.1" r="3.15" fill="#1a8495" stroke="#0f6878" stroke-width="0.5"/>
<circle cx="249.4" cy="493.0" r="3.15" fill="#1a8495" stroke="#0f6878" stroke-width="0.5"/>
<circle cx="254.9" cy="489.3" r="3.15" fill="#1a8495" stroke="#0f6878" stroke-width="0.5"/>
<circle cx="261.3" cy="487.5" r="3.15" fill="#1a8495" stroke="#0f6878" stroke-width="0.5"/>
<circle cx="267.8" cy="487.1" r="3.15" fill="#1a8495" stroke="#0f6878" stroke-width="0.5"/>
<circle cx="274.4" cy="488.2" r="3.15" fill="#1a8495" stroke="#0f6878" stroke-width="0.5"/>
<circle cx="280.5" cy="490.8" r="3.15" fill="#1a8495" stroke="#0f6878" stroke-width="0.5"/>
<circle cx="285.6" cy="494.7" r="3.15" fill="#1a8495" stroke="#0f6878" stroke-width="0.5"/>
<circle cx="289.3" cy="500.7" r="3.15" fill="#1a8495" stroke="#0f6878" stroke-width="0.5"/>
<path d="M275.0 492.5 L276.7 492.6 L278.5 493.1 L280.2 493.8 L281.7 494.7 L283.1 495.9 L284.3 497.2 L285.2 498.8 L285.9 500.4 L286.3 502.2 L286.5 504.0 L286.5 504.0 L286.5 504.0 L286.5 504.0 L286.5 504.0 L286.5 504.0 L286.5 504.0 L286.5 504.0 L286.5 504.0 L286.5 504.0 L286.5 504.0 L286.5 504.0 L286.5 504.0 L286.3 505.8 L285.9 507.6 L285.2 509.2 L284.3 510.8 L283.1 512.1 L281.7 513.3 L280.2 514.2 L278.5 514.9 L276.7 515.4 L275.0 515.5 L273.7 515.5 L272.5 515.5 L271.3 515.5 L270.1 515.5 L268.8 515.5 L267.6 515.5 L266.4 515.5 L265.2 515.5 L263.9 515.5 L262.7 515.5 L261.5 515.5 L260.2 515.5 L258.5 515.4 L256.7 514.9 L255.0 514.2 L253.5 513.3 L252.1 512.1 L250.9 510.8 L250.0 509.2 L249.3 507.6 L248.9 505.8 L248.8 504.0 L248.8 504.0 L248.8 504.0 L248.8 504.0 L248.8 504.0 L248.8 504.0 L248.8 504.0 L248.8 504.0 L248.8 504.0 L248.8 504.0 L248.8 504.0 L248.8 504.0 L248.8 504.0 L248.9 502.2 L249.3 500.4 L250.0 498.8 L250.9 497.2 L252.1 495.9 L253.5 494.7 L255.0 493.8 L256.7 493.1 L258.5 492.6 L260.2 492.5 L261.5 492.5 L262.7 492.5 L263.9 492.5 L265.2 492.5 L266.4 492.5 L267.6 492.5 L268.8 492.5 L270.1 492.5 L271.3 492.5 L272.5 492.5 L273.7 492.5 Z" fill="#fff" stroke="#111" stroke-width="1.3" stroke-linejoin="round"/>
<rect x="254.30" y="496.90" width="25.10" height="14.90" rx="2.40" fill="#f8c9a0" stroke="#111" stroke-width="1.3"/>
<circle cx="346.4" cy="608.5" r="3.15" fill="#1a8495" stroke="#0f6878" stroke-width="0.5"/>
<circle cx="353.1" cy="607.2" r="3.15" fill="#1a8495" stroke="#0f6878" stroke-width="0.5"/>
<circle cx="359.8" cy="606.5" r="3.15" fill="#1a8495" stroke="#0f6878" stroke-width="0.5"/>
<circle cx="366.5" cy="606.2" r="3.15" fill="#1a8495" stroke="#0f6878" stroke-width="0.5"/>
<circle cx="373.5" cy="606.5" r="3.15" fill="#1a8495" stroke="#0f6878" stroke-width="0.5"/>
<circle cx="380.2" cy="607.2" r="3.15" fill="#1a8495" stroke="#0f6878" stroke-width="0.5"/>
<circle cx="386.9" cy="608.0" r="3.15" fill="#1a8495" stroke="#0f6878" stroke-width="0.5"/>
<path d="M388.9 611.0 L390.6 611.1 L392.3 611.5 L393.9 612.2 L395.4 613.1 L396.7 614.2 L397.9 615.5 L398.8 617.0 L399.5 618.7 L399.9 620.4 L400.0 622.1 L400.0 622.1 L400.0 622.1 L400.0 622.1 L400.0 622.1 L400.0 622.1 L400.0 622.1 L400.0 622.1 L400.0 622.1 L400.0 622.1 L400.0 622.1 L400.0 622.1 L400.0 622.1 L399.9 623.8 L399.5 625.5 L398.8 627.2 L397.9 628.7 L396.7 630.0 L395.4 631.1 L393.9 632.0 L392.3 632.7 L390.6 633.1 L388.9 633.2 L385.4 633.2 L381.9 633.2 L378.4 633.2 L374.9 633.2 L371.5 633.2 L368.0 633.2 L364.5 633.2 L361.1 633.2 L357.6 633.2 L354.1 633.2 L350.6 633.2 L347.1 633.2 L345.4 633.1 L343.7 632.7 L342.1 632.0 L340.6 631.1 L339.3 630.0 L338.1 628.7 L337.2 627.2 L336.5 625.5 L336.1 623.8 L336.0 622.1 L336.0 622.1 L336.0 622.1 L336.0 622.1 L336.0 622.1 L336.0 622.1 L336.0 622.1 L336.0 622.1 L336.0 622.1 L336.0 622.1 L336.0 622.1 L336.0 622.1 L336.0 622.1 L336.1 620.4 L336.5 618.7 L337.2 617.0 L338.1 615.5 L339.3 614.2 L340.6 613.1 L342.1 612.2 L343.7 611.5 L345.4 611.1 L347.1 611.0 L350.6 611.0 L354.1 611.0 L357.6 611.0 L361.1 611.0 L364.5 611.0 L368.0 611.0 L371.5 611.0 L374.9 611.0 L378.4 611.0 L381.9 611.0 L385.4 611.0 Z" fill="#fff" stroke="#111" stroke-width="1.3" stroke-linejoin="round"/>
<rect x="341.00" y="615.90" width="26.05" height="14.20" rx="2.40" fill="#f8c9a0" stroke="#111" stroke-width="1.3"/>
<rect x="367.05" y="615.90" width="26.05" height="14.20" rx="2.40" fill="#f8c9a0" stroke="#111" stroke-width="1.3"/>
<defs><marker id="ah" viewBox="0 0 10 10" refX="5.5" refY="5" markerWidth="5" markerHeight="5" orient="auto"><path d="M0 1.1 L10 5 L0 8.9 L2.4 5 Z" fill="#111"/></marker><marker id="ah2" viewBox="0 0 10 10" refX="8" refY="5" markerWidth="6" markerHeight="6" orient="auto"><path d="M1 1 L9 5 L1 9" fill="none" stroke="#111" stroke-width="1.6"/></marker></defs>
<path d="M481.5 553.6 L454.0 600.8" fill="none" stroke="#111" stroke-width="2.0" marker-end="url(#ah)" stroke-linecap="round"/>
<circle cx="512.5" cy="502.9" r="3.15" fill="#1a8495" stroke="#0f6878" stroke-width="0.5"/>
<circle cx="505.7" cy="502.9" r="3.15" fill="#1a8495" stroke="#0f6878" stroke-width="0.5"/>
<circle cx="499.1" cy="501.5" r="3.15" fill="#1a8495" stroke="#0f6878" stroke-width="0.5"/>
<circle cx="493.8" cy="497.2" r="3.15" fill="#1a8495" stroke="#0f6878" stroke-width="0.5"/>
<circle cx="491.1" cy="491.0" r="3.15" fill="#1a8495" stroke="#0f6878" stroke-width="0.5"/>
<circle cx="493.1" cy="488.4" r="3.15" fill="#1a8495" stroke="#0f6878" stroke-width="0.5"/>
<circle cx="491.7" cy="483.8" r="3.15" fill="#1a8495" stroke="#0f6878" stroke-width="0.5"/>
<circle cx="495.4" cy="478.1" r="3.15" fill="#1a8495" stroke="#0f6878" stroke-width="0.5"/>
<circle cx="501.2" cy="474.7" r="3.15" fill="#1a8495" stroke="#0f6878" stroke-width="0.5"/>
<circle cx="508.0" cy="474.1" r="3.15" fill="#1a8495" stroke="#0f6878" stroke-width="0.5"/>
<circle cx="514.8" cy="474.1" r="3.15" fill="#1a8495" stroke="#0f6878" stroke-width="0.5"/>
<circle cx="521.6" cy="474.1" r="3.15" fill="#1a8495" stroke="#0f6878" stroke-width="0.5"/>
<circle cx="528.4" cy="474.1" r="3.15" fill="#1a8495" stroke="#0f6878" stroke-width="0.5"/>
<circle cx="535.2" cy="474.1" r="3.15" fill="#1a8495" stroke="#0f6878" stroke-width="0.5"/>
<circle cx="542.0" cy="474.1" r="3.15" fill="#1a8495" stroke="#0f6878" stroke-width="0.5"/>
<circle cx="548.8" cy="474.1" r="3.15" fill="#1a8495" stroke="#0f6878" stroke-width="0.5"/>
<circle cx="555.3" cy="476.0" r="3.15" fill="#1a8495" stroke="#0f6878" stroke-width="0.5"/>
<circle cx="560.3" cy="480.6" r="3.15" fill="#1a8495" stroke="#0f6878" stroke-width="0.5"/>
<circle cx="562.6" cy="486.9" r="3.15" fill="#1a8495" stroke="#0f6878" stroke-width="0.5"/>
<circle cx="561.4" cy="488.7" r="3.15" fill="#1a8495" stroke="#0f6878" stroke-width="0.5"/>
<circle cx="561.5" cy="494.1" r="3.15" fill="#1a8495" stroke="#0f6878" stroke-width="0.5"/>
<circle cx="557.5" cy="499.5" r="3.15" fill="#1a8495" stroke="#0f6878" stroke-width="0.5"/>
<circle cx="551.5" cy="502.5" r="3.15" fill="#1a8495" stroke="#0f6878" stroke-width="0.5"/>
<circle cx="544.7" cy="502.9" r="3.15" fill="#1a8495" stroke="#0f6878" stroke-width="0.5"/>
<path d="M548.3 477.5 L550.0 477.6 L551.7 478.0 L553.3 478.7 L554.8 479.6 L556.1 480.7 L557.2 482.0 L558.1 483.5 L558.8 485.1 L559.2 486.8 L559.3 488.5 L559.3 488.5 L559.3 488.5 L559.3 488.5 L559.3 488.5 L559.3 488.5 L559.3 488.5 L559.3 488.5 L559.3 488.5 L559.3 488.5 L559.3 488.5 L559.3 488.5 L559.3 488.5 L559.2 490.2 L558.8 491.9 L558.1 493.5 L557.2 495.0 L556.1 496.3 L554.8 497.4 L553.3 498.3 L551.7 499.0 L550.0 499.4 L548.3 499.5 L544.7 499.5 L541.1 499.5 L537.5 499.5 L534.0 499.5 L530.4 499.5 L526.8 499.5 L523.2 499.5 L519.6 499.5 L516.0 499.5 L512.5 499.5 L508.9 499.5 L505.3 499.5 L503.6 499.4 L501.9 499.0 L500.3 498.3 L498.8 497.4 L497.5 496.3 L496.4 495.0 L495.5 493.5 L494.8 491.9 L494.4 490.2 L494.3 488.5 L494.3 488.5 L494.3 488.5 L494.3 488.5 L494.3 488.5 L494.3 488.5 L494.3 488.5 L494.3 488.5 L494.3 488.5 L494.3 488.5 L494.3 488.5 L494.3 488.5 L494.3 488.5 L494.4 486.8 L494.8 485.1 L495.5 483.5 L496.4 482.0 L497.5 480.7 L498.8 479.6 L500.3 478.7 L501.9 478.0 L503.6 477.6 L505.3 477.5 L508.9 477.5 L512.5 477.5 L516.0 477.5 L519.6 477.5 L523.2 477.5 L526.8 477.5 L530.4 477.5 L534.0 477.5 L537.5 477.5 L541.1 477.5 L544.7 477.5 Z" fill="#fff" stroke="#111" stroke-width="1.3" stroke-linejoin="round"/>
<rect x="498.05" y="481.55" width="11.10" height="13.50" rx="2.40" fill="#ffffff" stroke="#111" stroke-width="1.3"/>
<rect x="509.23" y="481.55" width="11.10" height="13.50" rx="2.40" fill="#f8cda6" stroke="#111" stroke-width="1.3"/>
<rect x="520.41" y="481.55" width="11.10" height="13.50" rx="2.40" fill="#f4b886" stroke="#111" stroke-width="1.3"/>
<rect x="531.59" y="481.55" width="11.10" height="13.50" rx="2.40" fill="#f5bb8a" stroke="#111" stroke-width="1.3"/>
<rect x="542.77" y="481.55" width="11.10" height="13.50" rx="2.40" fill="#f2ad74" stroke="#111" stroke-width="1.3"/>
<circle cx="452.4" cy="591.0" r="3.15" fill="#1a8495" stroke="#0f6878" stroke-width="0.5"/>
<circle cx="447.3" cy="586.8" r="3.15" fill="#1a8495" stroke="#0f6878" stroke-width="0.5"/>
<circle cx="444.5" cy="580.8" r="3.15" fill="#1a8495" stroke="#0f6878" stroke-width="0.5"/>
<circle cx="447.4" cy="577.5" r="3.15" fill="#1a8495" stroke="#0f6878" stroke-width="0.5"/>
<circle cx="444.6" cy="573.9" r="3.15" fill="#1a8495" stroke="#0f6878" stroke-width="0.5"/>
<circle cx="447.5" cy="568.0" r="3.15" fill="#1a8495" stroke="#0f6878" stroke-width="0.5"/>
<circle cx="452.7" cy="563.8" r="3.15" fill="#1a8495" stroke="#0f6878" stroke-width="0.5"/>
<circle cx="459.1" cy="562.3" r="3.15" fill="#1a8495" stroke="#0f6878" stroke-width="0.5"/>
<circle cx="465.8" cy="562.3" r="3.15" fill="#1a8495" stroke="#0f6878" stroke-width="0.5"/>
<circle cx="472.4" cy="562.3" r="3.15" fill="#1a8495" stroke="#0f6878" stroke-width="0.5"/>
<circle cx="479.1" cy="562.3" r="3.15" fill="#1a8495" stroke="#0f6878" stroke-width="0.5"/>
<circle cx="485.7" cy="562.3" r="3.15" fill="#1a8495" stroke="#0f6878" stroke-width="0.5"/>
<circle cx="492.4" cy="562.3" r="3.15" fill="#1a8495" stroke="#0f6878" stroke-width="0.5"/>
<circle cx="499.1" cy="562.3" r="3.15" fill="#1a8495" stroke="#0f6878" stroke-width="0.5"/>
<circle cx="505.7" cy="562.3" r="3.15" fill="#1a8495" stroke="#0f6878" stroke-width="0.5"/>
<circle cx="512.4" cy="562.3" r="3.15" fill="#1a8495" stroke="#0f6878" stroke-width="0.5"/>
<circle cx="519.0" cy="562.3" r="3.15" fill="#1a8495" stroke="#0f6878" stroke-width="0.5"/>
<circle cx="525.7" cy="562.3" r="3.15" fill="#1a8495" stroke="#0f6878" stroke-width="0.5"/>
<circle cx="532.1" cy="563.8" r="3.15" fill="#1a8495" stroke="#0f6878" stroke-width="0.5"/>
<circle cx="537.3" cy="568.0" r="3.15" fill="#1a8495" stroke="#0f6878" stroke-width="0.5"/>
<circle cx="540.2" cy="573.9" r="3.15" fill="#1a8495" stroke="#0f6878" stroke-width="0.5"/>
<circle cx="537.4" cy="577.5" r="3.15" fill="#1a8495" stroke="#0f6878" stroke-width="0.5"/>
<circle cx="540.3" cy="580.8" r="3.15" fill="#1a8495" stroke="#0f6878" stroke-width="0.5"/>
<circle cx="537.5" cy="586.8" r="3.15" fill="#1a8495" stroke="#0f6878" stroke-width="0.5"/>
<circle cx="532.4" cy="591.0" r="3.15" fill="#1a8495" stroke="#0f6878" stroke-width="0.5"/>
<path d="M525.5 565.7 L527.3 565.8 L529.1 566.3 L530.9 567.0 L532.4 568.0 L533.8 569.2 L535.0 570.6 L536.0 572.1 L536.7 573.9 L537.2 575.7 L537.3 577.5 L537.3 577.5 L537.3 577.5 L537.3 577.5 L537.3 577.5 L537.3 577.5 L537.3 577.5 L537.3 577.5 L537.3 577.5 L537.3 577.5 L537.3 577.5 L537.3 577.5 L537.3 577.5 L537.2 579.3 L536.7 581.1 L536.0 582.9 L535.0 584.4 L533.8 585.8 L532.4 587.0 L530.9 588.0 L529.1 588.7 L527.3 589.2 L525.5 589.3 L520.0 589.3 L514.5 589.3 L508.9 589.3 L503.4 589.3 L497.9 589.3 L492.4 589.3 L486.9 589.3 L481.4 589.3 L475.9 589.3 L470.3 589.3 L464.8 589.3 L459.3 589.3 L457.5 589.2 L455.7 588.7 L453.9 588.0 L452.4 587.0 L451.0 585.8 L449.8 584.4 L448.8 582.9 L448.1 581.1 L447.6 579.3 L447.5 577.5 L447.5 577.5 L447.5 577.5 L447.5 577.5 L447.5 577.5 L447.5 577.5 L447.5 577.5 L447.5 577.5 L447.5 577.5 L447.5 577.5 L447.5 577.5 L447.5 577.5 L447.5 577.5 L447.6 575.7 L448.1 573.9 L448.8 572.1 L449.8 570.6 L451.0 569.2 L452.4 568.0 L453.9 567.0 L455.7 566.3 L457.5 565.8 L459.3 565.7 L464.8 565.7 L470.3 565.7 L475.9 565.7 L481.4 565.7 L486.9 565.7 L492.4 565.7 L497.9 565.7 L503.4 565.7 L508.9 565.7 L514.5 565.7 L520.0 565.7 Z" fill="#fff" stroke="#111" stroke-width="1.3" stroke-linejoin="round"/>
<rect x="454.15" y="570.50" width="25.30" height="14.40" rx="2.40" fill="#f8cba2" stroke="#111" stroke-width="1.3"/>
<rect x="479.55" y="570.50" width="25.30" height="14.40" rx="2.40" fill="#f8cba2" stroke="#111" stroke-width="1.3"/>
<rect x="504.95" y="570.50" width="25.30" height="14.40" rx="2.40" fill="#fde6d2" stroke="#111" stroke-width="1.3"/>
<circle cx="530.7" cy="591.3" r="3.0" fill="#e5577f" stroke="#cf4a73" stroke-width="0.6"/>
<rect x="261.5" y="397.4" width="82.1" height="16.2" rx="8.1" fill="#b4b4b6" stroke="#5a5a5a" stroke-width="1.15"/>
<text x="274.7" y="408.8" textLength="55.8" lengthAdjust="spacingAndGlyphs" class="met" style="font-size:9.1px" >Oxaloacetate</text>
<rect x="395.2" y="397.4" width="54.1" height="16.2" rx="8.1" fill="#ecebad" stroke="#5a5a5a" stroke-width="1.15"/>
<text x="407.9" y="408.8" textLength="28.3" lengthAdjust="spacingAndGlyphs" class="met" style="font-size:9.1px" >Citrate</text>
<rect x="441.1" y="455.2" width="64.0" height="15.3" rx="7.7" fill="#f3f3de" stroke="#5a5a5a" stroke-width="1.15"/>
<text x="453.0" y="466.2" textLength="40.0" lengthAdjust="spacingAndGlyphs" class="met" style="font-size:9.1px" >Isocitrate</text>
<rect x="442.2" y="525.7" width="82.8" height="15.8" rx="7.9" fill="#c9c927" stroke="#5a5a5a" stroke-width="1.15"/>
<text x="450.5" y="535.8" textLength="66.6" lengthAdjust="spacingAndGlyphs" class="met" style="font-size:9.1px" >α-Ketoglutarate</text>
<rect x="403" y="607.7" width="67.5" height="30.6" rx="14.0" fill="#b4b4b6" stroke="#5a5a5a" stroke-width="1.15"/>
<text x="419.1" y="619.6" textLength="36.0" lengthAdjust="spacingAndGlyphs" class="met" style="font-size:9.1px" >Succinyl</text>
<text x="428.6" y="630.8" textLength="17.3" lengthAdjust="spacingAndGlyphs" class="met" style="font-size:9.1px" >CoA</text>
<rect x="262.1" y="614.2" width="62.0" height="16.1" rx="8.0" fill="#c9c92e" stroke="#5a5a5a" stroke-width="1.15"/>
<text x="271.3" y="624.7" textLength="42.7" lengthAdjust="spacingAndGlyphs" class="met" style="font-size:9.1px" >Succinate</text>
<rect x="209.9" y="535.1" width="59.1" height="16.7" rx="8.3" fill="#e1df85" stroke="#5a5a5a" stroke-width="1.15"/>
<text x="219.5" y="546.0" textLength="40.1" lengthAdjust="spacingAndGlyphs" class="met" style="font-size:9.1px" >Fumarate</text>
<rect x="226.9" y="453.6" width="48.6" height="16.0" rx="8.0" fill="#e0de7c" stroke="#5a5a5a" stroke-width="1.15"/>
<text x="236.7" y="464.3" textLength="29.0" lengthAdjust="spacingAndGlyphs" class="met" style="font-size:9.1px" >Malate</text>
<path d="M255.8 449.3 Q266 431 283.5 420.5" fill="none" stroke="#111" stroke-width="2.0" marker-end="url(#ah)" stroke-linecap="round"/>
<path d="M338.3 394.6 Q365 389 390.0 397.0" fill="none" stroke="#111" stroke-width="2.0" marker-end="url(#ah)" stroke-linecap="round"/>
<path d="M351.4 378.6 Q366 388 384.4 393.2" fill="none" stroke="#111" stroke-width="1.2" marker-end="url(#ah2)" stroke-linecap="round"/>
<path d="M442.0 422.6 Q452 431 463.3 446.0" fill="none" stroke="#111" stroke-width="2.0" marker-end="url(#ah)" stroke-linecap="round"/>
<path d="M482.7 486.3 Q485.6 500 485.9 515.5" fill="none" stroke="#111" stroke-width="2.0" marker-end="url(#ah)" stroke-linecap="round"/>
<path d="M406.7 635 Q362 652 317.5 636.8" fill="none" stroke="#111" stroke-width="2.0" marker-end="url(#ah)" stroke-linecap="round"/>
<path d="M276 611 L242.3 560.0" fill="none" stroke="#111" stroke-width="2.0" marker-end="url(#ah)" stroke-linecap="round"/>
<path d="M235.5 533 Q233.5 505 241.6 479.5" fill="none" stroke="#111" stroke-width="2.0" marker-end="url(#ah)" stroke-linecap="round"/>
<text x="27.9" y="384.3" textLength="178.1" lengthAdjust="spacingAndGlyphs" class="big" style="font-size:15px" >Oxidative Phosphorylation</text>
<text x="325.0" y="499.6" textLength="88.3" lengthAdjust="spacingAndGlyphs" class="big" style="font-size:19px" >TCA Cycle</text>
<text x="20.1" y="514.2" textLength="67.9" lengthAdjust="spacingAndGlyphs" class="big" style="font-size:9.9px" font-weight="bold" fill-opacity="0.9">Intermembrane</text>
<text x="40.3" y="525.3" textLength="26.9" lengthAdjust="spacingAndGlyphs" class="big" style="font-size:9.9px" font-weight="bold" fill-opacity="0.9">Space</text>
<text x="213.1" y="638.8" textLength="26.7" lengthAdjust="spacingAndGlyphs" class="big" style="font-size:9.6px" font-weight="bold">Matrix</text>
<text x="138.0" y="415.3" textLength="58.5" lengthAdjust="spacingAndGlyphs" class="el" style="font-size:9px" >ATP synthase</text>
<text x="155.7" y="485.2" textLength="48.7" lengthAdjust="spacingAndGlyphs" class="el" style="font-size:9px" >Complex IV</text>
<text x="148.2" y="525.7" textLength="21.9" lengthAdjust="spacingAndGlyphs" class="el" style="font-size:9px" >Cyt C</text>
<text x="182.7" y="529.2" textLength="36.8" lengthAdjust="spacingAndGlyphs" class="el" style="font-size:9px" >Complex</text>
<text x="197.2" y="539.7" textLength="8.3" lengthAdjust="spacingAndGlyphs" class="el" style="font-size:9px" >III</text>
<text x="48.2" y="561.1" textLength="42.7" lengthAdjust="spacingAndGlyphs" class="el" style="font-size:9px" >Complex I</text>
<defs><filter id="blur" x="-20%" y="-20%" width="140%" height="140%"><feGaussianBlur stdDeviation="2.2"/></filter></defs>
<rect x="229" y="576" width="58" height="26" rx="6" fill="#fff" filter="url(#blur)"/>
<text x="227.1" y="581.9" textLength="51.0" lengthAdjust="spacingAndGlyphs" class="el" style="font-size:9px;stroke:#fff;stroke-width:3px;stroke-linejoin:round;stroke-opacity:0.9;fill:#fff">Complex II /</text>
<text x="227.1" y="581.9" textLength="51.0" lengthAdjust="spacingAndGlyphs" class="el" style="font-size:9px" >Complex II /</text>
<text x="231.5" y="591.7" textLength="40.7" lengthAdjust="spacingAndGlyphs" class="el" style="font-size:9px;stroke:#fff;stroke-width:3px;stroke-linejoin:round;stroke-opacity:0.9;fill:#fff">Succinate</text>
<text x="231.5" y="591.7" textLength="40.7" lengthAdjust="spacingAndGlyphs" class="el" style="font-size:9px" >Succinate</text>
<text x="226.6" y="601.6" textLength="64.6" lengthAdjust="spacingAndGlyphs" class="el" style="font-size:9px;stroke:#fff;stroke-width:3px;stroke-linejoin:round;stroke-opacity:0.9;fill:#fff">dehydrogenase</text>
<text x="226.6" y="601.6" textLength="64.6" lengthAdjust="spacingAndGlyphs" class="el" style="font-size:9px" >dehydrogenase</text>
<text x="298.5" y="381.4" textLength="47.3" lengthAdjust="spacingAndGlyphs" class="el" style="font-size:9px" >Acetyl-CoA</text>
<text x="292.6" y="428.9" textLength="28.4" lengthAdjust="spacingAndGlyphs" class="el" style="font-size:9px" >Malate</text>
<text x="274.0" y="439.4" textLength="65.0" lengthAdjust="spacingAndGlyphs" class="el" style="font-size:9px" >dehydrogenase</text>
<text x="389.7" y="430.3" textLength="28.1" lengthAdjust="spacingAndGlyphs" class="el" style="font-size:9px" >Citrate</text>
<text x="384.3" y="440.5" textLength="38.7" lengthAdjust="spacingAndGlyphs" class="el" style="font-size:9px" >Synthase</text>
<text x="496.3" y="430.0" textLength="41.6" lengthAdjust="spacingAndGlyphs" class="el" style="font-size:9px" >Aconitase</text>
<text x="509.0" y="510.8" textLength="39.4" lengthAdjust="spacingAndGlyphs" class="el" style="font-size:9px;stroke:#fff;stroke-width:3px;stroke-linejoin:round;stroke-opacity:0.9;fill:#fff">Isocitrate</text>
<text x="509.0" y="510.8" textLength="39.4" lengthAdjust="spacingAndGlyphs" class="el" style="font-size:9px" >Isocitrate</text>
<text x="495.8" y="521.3" textLength="64.6" lengthAdjust="spacingAndGlyphs" class="el" style="font-size:9px" >dehydrogenase</text>
<text x="474.9" y="601.8" textLength="66.3" lengthAdjust="spacingAndGlyphs" class="el" style="font-size:9px" >α-Ketoglutarate</text>
<text x="475.3" y="612.7" textLength="65.3" lengthAdjust="spacingAndGlyphs" class="el" style="font-size:9px" >dehydrogenase</text>
<text x="490.2" y="622.6" textLength="36.1" lengthAdjust="spacingAndGlyphs" class="el" style="font-size:9px" >complex</text>
<text x="339.2" y="588.6" textLength="55.6" lengthAdjust="spacingAndGlyphs" class="el" style="font-size:9px" >Succinyl CoA</text>
<text x="344.2" y="598.5" textLength="45.9" lengthAdjust="spacingAndGlyphs" class="el" style="font-size:9px" >synthetase</text>
<text x="248.1" y="525.0" textLength="41.2" lengthAdjust="spacingAndGlyphs" class="el" style="font-size:9px" >Fumarase</text>
<circle cx="26.1" cy="424.2" r="5.8" fill="#f7c51e" stroke="#d09c0c" stroke-width="0.8"/>
<text x="26.1" y="426.2" text-anchor="middle" style="font-size:5.2px;fill:#7a5a00">P</text>
<path d="M28.3 430.6 L29.6 433.4" stroke="#555" stroke-width="0.7" fill="none" marker-end="url(#ah3)"/>
<rect x="23.6" y="435.7" width="17.8" height="9.8" rx="3.8" fill="#eaf2dc" stroke="#7ea65c" stroke-width="0.9" transform="rotate(-22 32.5 440.6)"/>
<text x="32.5" y="442.6" text-anchor="middle" transform="rotate(-22 32.5 440.6)" style="font-size:5.6px;fill:#666">ADP</text>
<path d="M37.5 448.9 L40.5 454.2 L44.8 449.7 L44.3 455.5 L50.8 453.5 L46.8 458.3 L53.6 459.3 L47.4 461.8 L52.7 465.6 L45.9 465.1 L48.3 470.6 L42.6 467.3 L41.5 473.1 L38.5 467.8 L34.2 472.3 L34.7 466.5 L28.2 468.5 L32.2 463.7 L25.4 462.7 L31.6 460.2 L26.3 456.4 L33.1 456.9 L30.7 451.4 L36.4 454.7 Z" fill="#fbe96e" stroke="#ecd04a" stroke-width="0.7" stroke-linejoin="round"/>
<text x="40.2" y="463.4" text-anchor="middle" transform="rotate(-25 39.8 461)" style="font-size:6.3px;font-weight:bold;fill:#111">ATP</text>
<defs><marker id="ah3" viewBox="0 0 10 10" refX="7" refY="5" markerWidth="4.5" markerHeight="4.5" orient="auto"><path d="M0 0.5 L10 5 L0 9.5 Z" fill="#222"/></marker></defs>
<path d="M39 426.6 C44 423.5 50 432 53.5 439 C56 444.5 58 450 54.0 454.4" fill="none" stroke="#222" stroke-width="0.8" marker-end="url(#ah3)"/>
<defs><radialGradient id="rgp" cx="0.42" cy="0.38" r="0.65"><stop offset="0" stop-color="#f2809e"/><stop offset="0.6" stop-color="#e8577f"/><stop offset="1" stop-color="#d5426d"/></radialGradient><radialGradient id="rgt" cx="0.42" cy="0.38" r="0.65"><stop offset="0" stop-color="#2595a7"/><stop offset="0.6" stop-color="#17808f"/><stop offset="1" stop-color="#0e6676"/></radialGradient></defs>
<rect x="505.4" y="371.8" width="32.4" height="17.5" rx="3" fill="#b4b4b6" stroke="#222" stroke-width="1.3"/>
<text x="541.3" y="384.4" textLength="136.1" lengthAdjust="spacingAndGlyphs" class="lg" style="font-size:12px" >Not detected / Not probed</text>
<circle cx="562" cy="410.4" r="5.9" fill="url(#rgp)" stroke="#cf4270" stroke-width="0.7"/>
<circle cx="571" cy="402.3" r="5.9" fill="url(#rgp)" stroke="#cf4270" stroke-width="0.7"/>
<text x="581.8" y="402.4" textLength="57.2" lengthAdjust="spacingAndGlyphs" class="lg" style="font-size:13.2px" >Increased</text>
<text x="581.8" y="417.3" textLength="95.1" lengthAdjust="spacingAndGlyphs" class="lg" style="font-size:13.2px" >Phosphorylation</text>
<circle cx="590.4" cy="444.8" r="5.9" fill="url(#rgt)" stroke="#0f6878" stroke-width="0.7"/>
<circle cx="599.2" cy="436.6" r="5.9" fill="url(#rgt)" stroke="#0f6878" stroke-width="0.7"/>
<text x="610.0" y="436.8" textLength="57.0" lengthAdjust="spacingAndGlyphs" class="lg" style="font-size:13.2px" >Increased</text>
<text x="610.0" y="451.5" textLength="65.2" lengthAdjust="spacingAndGlyphs" class="lg" style="font-size:13.2px" >Acetylation</text>
<defs><linearGradient id="gm" x1="0" y1="0" x2="1" y2="0"><stop offset="0.05" stop-color="#fffffa"/><stop offset="1" stop-color="#c6c61c"/></linearGradient><linearGradient id="gp" x1="0" y1="0" x2="1" y2="0"><stop offset="0.03" stop-color="#fffdfa"/><stop offset="1" stop-color="#ee8a2c"/></linearGradient></defs>
<rect x="593.4" y="465.6" width="75.5" height="17.3" rx="8.6" fill="url(#gm)" stroke="#666" stroke-width="1"/>
<path d="M600.5 476.9 V485.1 M661.6 476.9 V485.1" stroke="#333" stroke-width="0.9"/>
<text x="597.2" y="497.0" textLength="14.9" lengthAdjust="spacingAndGlyphs" class="lg" style="font-size:12.2px" >0%</text>
<text x="651.3" y="497.0" textLength="29.0" lengthAdjust="spacingAndGlyphs" class="lg" style="font-size:12.2px" >100%</text>
<text x="603.4" y="507.9" textLength="58.8" lengthAdjust="spacingAndGlyphs" class="lg" style="font-size:12px" >Metabolite</text>
<text x="603.8" y="522.2" textLength="54.7" lengthAdjust="spacingAndGlyphs" class="lg" style="font-size:12px" >% Change</text>
<rect x="598.9" y="532.6" width="70.2" height="17.3" rx="3" fill="url(#gp)" stroke="#111" stroke-width="1.3"/>
<path d="M605.1 543.9 V551.7 M664.9 543.9 V551.7" stroke="#222" stroke-width="0.9"/>
<text x="603.3" y="563.6" textLength="6.4" lengthAdjust="spacingAndGlyphs" class="lg" style="font-size:12.2px" >0</text>
<text x="662.0" y="563.6" textLength="6.2" lengthAdjust="spacingAndGlyphs" class="lg" style="font-size:12.2px" >1</text>
<text x="614.5" y="575.7" textLength="39.2" lengthAdjust="spacingAndGlyphs" class="lg" style="font-size:12px" >Protein</text>
<text x="606.9" y="589.6" textLength="54.2" lengthAdjust="spacingAndGlyphs" class="lg" style="font-size:12px" >Log2 Fold</text>
<text x="613.1" y="604.3" textLength="42.3" lengthAdjust="spacingAndGlyphs" class="lg" style="font-size:12px" >Change</text>
<rect x="557.30" y="618.8" width="6.0" height="13.6" rx="2.6" fill="#fff" stroke="#111" stroke-width="1.2"/>
<rect x="563.35" y="618.8" width="6.0" height="13.6" rx="2.6" fill="#fff" stroke="#111" stroke-width="1.2"/>
<rect x="569.40" y="618.8" width="6.0" height="13.6" rx="2.6" fill="#fff" stroke="#111" stroke-width="1.2"/>
<rect x="575.45" y="618.8" width="6.0" height="13.6" rx="2.6" fill="#fff" stroke="#111" stroke-width="1.2"/>
<text x="587.9" y="629.2" textLength="92.0" lengthAdjust="spacingAndGlyphs" class="lg" style="font-size:13.2px" >Multiple Protein</text>
<text x="551.7" y="644.5" textLength="127.6" lengthAdjust="spacingAndGlyphs" class="lg" style="font-size:13.2px" >Complex/Isoenzymes</text>
</g>
</svg></body></html>
